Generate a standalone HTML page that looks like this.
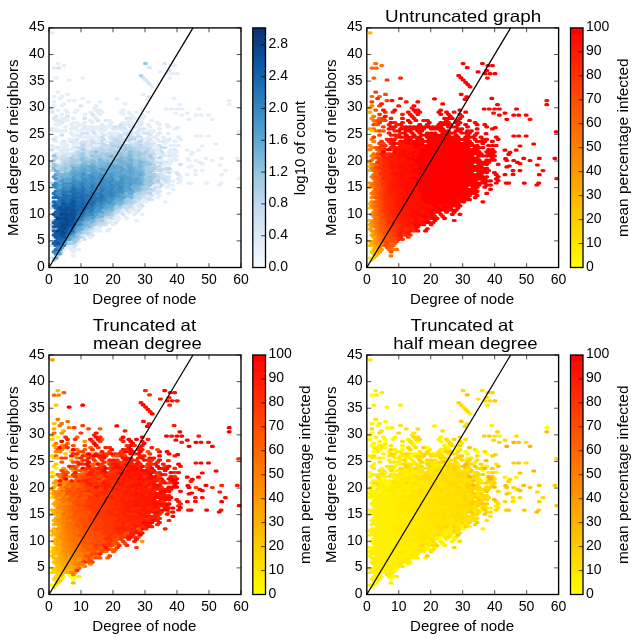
<!DOCTYPE html><html><head><meta charset="utf-8"><style>html,body{margin:0;padding:0;background:#fff;overflow:hidden} svg{display:block}</style></head><body><svg width="641" height="644" viewBox="0 0 641 644"><rect width="641" height="644" fill="#fff"/><filter id="bl" x="0" y="0" width="1" height="1"><feGaussianBlur stdDeviation="0.35"/></filter><g filter="url(#bl)"><style>text{font-family:"Liberation Sans",sans-serif;fill:#000} .tk text{font-size:14px} .lb{font-size:14px} .ti{font-size:16.5px}</style><clipPath id="clp0"><rect x="49" y="27.9" width="192" height="239.6"/></clipPath><g clip-path="url(#clp0)" stroke-width="3.24" stroke-linecap="round" fill="none"><path d="M51.3 258.0h1.8M51.3 128.9h1.8M51.3 112.2h1.8M51.3 108.0h1.8M53.2 118.4h1.8M55.1 153.8h1.8M55.1 120.5h1.8M55.1 116.4h1.8M57.0 147.6h1.8M59.0 158.0h1.8M59.0 120.5h1.8M60.9 151.8h1.8M60.9 122.6h1.8M62.8 158.0h1.8M62.8 153.8h1.8M62.8 149.7h1.8M62.8 141.4h1.8M66.6 149.7h1.8M66.6 116.4h1.8M70.5 153.8h1.8M72.4 147.6h1.8M74.3 141.4h1.8M76.2 139.3h1.8M78.1 241.3h1.8M80.0 135.1h1.8M80.0 105.9h1.8M81.9 141.4h1.8M81.9 133.0h1.8M83.9 239.3h1.8M83.9 126.8h1.8M83.9 118.4h1.8M85.8 145.5h1.8M85.8 141.4h1.8M89.6 149.7h1.8M91.5 235.1h1.8M91.5 230.9h1.8M91.5 139.3h1.8M91.5 130.9h1.8M91.5 114.3h1.8M93.4 141.4h1.8M97.3 120.5h1.8M99.2 226.8h1.8M99.2 139.3h1.8M101.1 128.9h1.8M103.0 147.6h1.8M103.0 135.1h1.8M103.0 126.8h1.8M104.9 220.5h1.8M104.9 120.5h1.8M106.8 222.6h1.8M106.8 147.6h1.8M108.8 137.2h1.8M108.8 133.0h1.8M110.7 135.1h1.8M112.6 141.4h1.8M112.6 137.2h1.8M112.6 128.9h1.8M114.5 222.6h1.8M114.5 214.3h1.8M116.4 137.2h1.8M118.3 126.8h1.8M120.2 212.2h1.8M120.2 128.9h1.8M122.2 143.4h1.8M122.2 135.1h1.8M122.2 126.8h1.8M124.1 141.4h1.8M124.1 128.9h1.8M126.0 135.1h1.8M126.0 118.4h1.8M127.9 212.2h1.8M127.9 124.7h1.8M129.8 130.9h1.8M129.8 126.8h1.8M129.8 118.4h1.8M133.7 126.8h1.8M135.6 141.4h1.8M135.6 133.0h1.8M137.5 205.9h1.8M137.5 201.8h1.8M137.5 135.1h1.8M137.5 130.9h1.8M139.4 203.8h1.8M139.4 128.9h1.8M139.4 124.7h1.8M141.3 143.4h1.8M141.3 139.3h1.8M143.2 145.5h1.8M143.2 128.9h1.8M145.1 197.6h1.8M147.1 145.5h1.8M149.0 197.6h1.8M149.0 151.8h1.8M149.0 135.1h1.8M150.9 199.7h1.8M150.9 149.7h1.8M150.9 145.5h1.8M152.8 155.9h1.8M152.8 143.4h1.8M154.7 191.3h1.8M154.7 178.8h1.8M154.7 158.0h1.8M154.7 149.7h1.8M156.6 193.4h1.8M158.6 191.3h1.8M158.6 149.7h1.8M158.6 133.0h1.8M160.5 172.6h1.8M160.5 155.9h1.8M162.4 174.7h1.8M162.4 170.5h1.8M162.4 162.2h1.8M162.4 153.8h1.8M166.2 183.0h1.8M166.2 178.8h1.8M166.2 170.5h1.8M166.2 162.2h1.8M168.1 180.9h1.8M168.1 176.8h1.8M168.1 155.9h1.8M168.1 139.3h1.8M173.9 149.7h1.8M175.8 172.6h1.8M177.7 178.8h1.8M177.7 174.7h1.8M57.7 68.1h1.8M148.6 67.7h1.8M163.8 63.5h1.8M168.2 70.6h1.8M144.7 80.0h1.8M147.0 82.3h1.8M149.2 84.5h1.8M148.2 96.8h1.8" stroke="#d6e6f4"/><path d="M51.3 245.5h1.8M51.3 241.3h1.8M51.3 203.8h1.8M51.3 162.2h1.8M51.3 149.7h1.8M60.9 251.8h1.8M60.9 135.1h1.8M64.7 155.9h1.8M66.6 153.8h1.8M70.5 241.3h1.8M70.5 141.4h1.8M72.4 247.6h1.8M74.3 245.5h1.8M80.0 143.4h1.8M83.9 147.6h1.8M83.9 143.4h1.8M85.8 133.0h1.8M89.6 233.0h1.8M91.5 147.6h1.8M91.5 143.4h1.8M93.4 228.8h1.8M93.4 149.7h1.8M93.4 133.0h1.8M95.3 143.4h1.8M101.1 137.2h1.8M104.9 224.7h1.8M106.8 218.4h1.8M114.5 126.8h1.8M118.3 139.3h1.8M118.3 135.1h1.8M122.2 214.3h1.8M124.1 133.0h1.8M126.0 210.1h1.8M126.0 205.9h1.8M126.0 139.3h1.8M127.9 208.0h1.8M127.9 137.2h1.8M129.8 143.4h1.8M131.7 208.0h1.8M131.7 137.2h1.8M135.6 199.7h1.8M135.6 137.2h1.8M137.5 210.1h1.8M139.4 137.2h1.8M141.3 205.9h1.8M143.2 195.5h1.8M143.2 133.0h1.8M145.1 143.4h1.8M147.1 141.4h1.8M147.1 133.0h1.8M149.0 147.6h1.8M149.0 143.4h1.8M149.0 139.3h1.8M150.9 195.5h1.8M150.9 191.3h1.8M152.8 172.6h1.8M152.8 151.8h1.8M154.7 170.5h1.8M154.7 153.8h1.8M156.6 168.4h1.8M158.6 178.8h1.8M158.6 174.7h1.8M160.5 176.8h1.8M160.5 164.3h1.8M162.4 178.8h1.8M162.4 141.4h1.8M164.3 176.8h1.8M164.3 147.6h1.8M179.6 164.3h1.8M142.4 77.8h1.8" stroke="#cee0f2"/><path d="M51.3 228.8h1.8M60.9 164.3h1.8M66.6 158.0h1.8M76.2 147.6h1.8M80.0 235.1h1.8M80.0 147.6h1.8M81.9 237.2h1.8M83.9 151.8h1.8M87.7 151.8h1.8M89.6 228.8h1.8M97.3 224.7h1.8M97.3 149.7h1.8M99.2 143.4h1.8M103.0 222.6h1.8M103.0 155.9h1.8M103.0 143.4h1.8M104.9 149.7h1.8M104.9 145.5h1.8M114.5 147.6h1.8M116.4 212.2h1.8M118.3 210.1h1.8M118.3 143.4h1.8M120.2 141.4h1.8M127.9 133.0h1.8M135.6 149.7h1.8M137.5 143.4h1.8M139.4 149.7h1.8M141.3 151.8h1.8M145.1 155.9h1.8M145.1 147.6h1.8M147.1 158.0h1.8M147.1 153.8h1.8M150.9 153.8h1.8M152.8 189.3h1.8M152.8 180.9h1.8M152.8 160.1h1.8M154.7 183.0h1.8M154.7 166.3h1.8M158.6 166.3h1.8M168.1 172.6h1.8" stroke="#c6dbef"/><path d="M51.3 224.7h1.8M66.6 241.3h1.8M68.5 164.3h1.8M72.4 155.9h1.8M76.2 151.8h1.8M78.1 153.8h1.8M83.9 155.9h1.8M89.6 153.8h1.8M91.5 226.8h1.8M91.5 151.8h1.8M95.3 222.6h1.8M116.4 145.5h1.8M120.2 208.0h1.8M120.2 149.7h1.8M122.2 147.6h1.8M131.7 203.8h1.8M131.7 149.7h1.8M133.7 197.6h1.8M133.7 147.6h1.8M135.6 153.8h1.8M139.4 145.5h1.8M145.1 172.6h1.8M145.1 168.4h1.8M145.1 160.1h1.8M147.1 187.2h1.8M149.0 189.3h1.8M150.9 162.2h1.8M152.8 164.3h1.8M154.7 174.7h1.8M158.6 158.0h1.8M140.1 75.6h1.8" stroke="#b2d2e8"/><path d="M51.3 220.5h1.8M51.3 187.2h1.8M51.3 170.5h1.8M51.3 166.3h1.8M53.2 139.3h1.8M57.0 255.9h1.8M57.0 164.3h1.8M60.9 155.9h1.8M74.3 158.0h1.8M74.3 153.8h1.8M78.1 158.0h1.8M78.1 149.7h1.8M80.0 151.8h1.8M85.8 153.8h1.8M85.8 149.7h1.8M87.7 235.1h1.8M87.7 230.9h1.8M87.7 155.9h1.8M89.6 158.0h1.8M89.6 145.5h1.8M89.6 141.4h1.8M95.3 147.6h1.8M97.3 153.8h1.8M101.1 224.7h1.8M101.1 145.5h1.8M101.1 141.4h1.8M103.0 218.4h1.8M103.0 139.3h1.8M106.8 151.8h1.8M108.8 145.5h1.8M110.7 139.3h1.8M112.6 216.3h1.8M114.5 143.4h1.8M116.4 149.7h1.8M120.2 137.2h1.8M120.2 124.7h1.8M122.2 205.9h1.8M122.2 139.3h1.8M127.9 141.4h1.8M129.8 135.1h1.8M131.7 145.5h1.8M133.7 143.4h1.8M135.6 145.5h1.8M139.4 199.7h1.8M139.4 195.5h1.8M141.3 197.6h1.8M143.2 149.7h1.8M147.1 199.7h1.8M147.1 191.3h1.8M149.0 160.1h1.8M150.9 166.3h1.8M154.7 162.2h1.8M158.6 187.2h1.8M158.6 145.5h1.8M160.5 168.4h1.8M160.5 151.8h1.8M160.5 147.6h1.8M164.3 180.9h1.8M164.3 168.4h1.8" stroke="#cadef0"/><path d="M51.3 208.0h1.8M51.3 183.0h1.8M60.9 160.1h1.8M64.7 160.1h1.8M66.6 162.2h1.8M81.9 145.5h1.8M93.4 153.8h1.8M99.2 222.6h1.8M99.2 147.6h1.8M104.9 216.3h1.8M108.8 216.3h1.8M110.7 218.4h1.8M110.7 147.6h1.8M112.6 212.2h1.8M112.6 149.7h1.8M114.5 210.1h1.8M114.5 139.3h1.8M116.4 141.4h1.8M124.1 208.0h1.8M126.0 151.8h1.8M127.9 203.8h1.8M129.8 205.9h1.8M133.7 139.3h1.8M135.6 158.0h1.8M137.5 147.6h1.8M141.3 155.9h1.8M141.3 147.6h1.8M143.2 191.3h1.8M145.1 193.4h1.8M154.7 187.2h1.8M156.6 176.8h1.8M158.6 183.0h1.8M158.6 170.5h1.8M158.6 162.2h1.8M160.5 185.1h1.8" stroke="#bfd8ed"/><path d="M51.3 145.5h1.8M53.2 147.6h1.8M53.2 130.9h1.8M53.2 105.9h1.8M53.2 101.8h1.8M55.1 141.4h1.8M55.1 137.2h1.8M55.1 128.9h1.8M55.1 124.7h1.8M57.0 155.9h1.8M57.0 130.9h1.8M57.0 122.6h1.8M57.0 110.1h1.8M59.0 162.2h1.8M59.0 153.8h1.8M59.0 149.7h1.8M59.0 124.7h1.8M60.9 147.6h1.8M60.9 143.4h1.8M60.9 130.9h1.8M60.9 118.4h1.8M60.9 114.3h1.8M60.9 105.9h1.8M62.8 249.7h1.8M62.8 145.5h1.8M62.8 120.5h1.8M62.8 103.9h1.8M64.7 151.8h1.8M64.7 147.6h1.8M64.7 143.4h1.8M64.7 130.9h1.8M64.7 126.8h1.8M64.7 118.4h1.8M64.7 110.1h1.8M66.6 245.5h1.8M66.6 145.5h1.8M66.6 120.5h1.8M66.6 112.2h1.8M68.5 247.6h1.8M68.5 155.9h1.8M68.5 139.3h1.8M70.5 249.7h1.8M70.5 245.5h1.8M70.5 149.7h1.8M70.5 133.0h1.8M70.5 128.9h1.8M70.5 124.7h1.8M72.4 255.9h1.8M72.4 251.8h1.8M72.4 143.4h1.8M72.4 139.3h1.8M72.4 135.1h1.8M72.4 126.8h1.8M72.4 122.6h1.8M72.4 118.4h1.8M74.3 249.7h1.8M74.3 149.7h1.8M74.3 145.5h1.8M74.3 128.9h1.8M74.3 112.2h1.8M76.2 243.4h1.8M76.2 143.4h1.8M76.2 135.1h1.8M76.2 130.9h1.8M76.2 126.8h1.8M76.2 122.6h1.8M76.2 110.1h1.8M78.1 249.7h1.8M78.1 137.2h1.8M78.1 124.7h1.8M80.0 239.3h1.8M80.0 130.9h1.8M81.9 137.2h1.8M81.9 128.9h1.8M81.9 124.7h1.8M83.9 235.1h1.8M83.9 122.6h1.8M83.9 114.3h1.8M85.8 137.2h1.8M85.8 128.9h1.8M87.7 147.6h1.8M87.7 143.4h1.8M87.7 139.3h1.8M87.7 135.1h1.8M87.7 130.9h1.8M87.7 126.8h1.8M87.7 101.8h1.8M89.6 237.2h1.8M89.6 137.2h1.8M89.6 128.9h1.8M89.6 120.5h1.8M89.6 112.2h1.8M91.5 126.8h1.8M91.5 122.6h1.8M93.4 145.5h1.8M93.4 137.2h1.8M93.4 128.9h1.8M93.4 116.4h1.8M93.4 108.0h1.8M95.3 230.9h1.8M95.3 226.8h1.8M95.3 135.1h1.8M95.3 126.8h1.8M95.3 118.4h1.8M95.3 110.1h1.8M95.3 105.9h1.8M97.3 228.8h1.8M97.3 145.5h1.8M97.3 141.4h1.8M97.3 137.2h1.8M97.3 128.9h1.8M97.3 112.2h1.8M99.2 230.9h1.8M99.2 130.9h1.8M99.2 126.8h1.8M99.2 114.3h1.8M99.2 110.1h1.8M99.2 101.8h1.8M101.1 133.0h1.8M101.1 124.7h1.8M101.1 112.2h1.8M103.0 130.9h1.8M104.9 141.4h1.8M104.9 128.9h1.8M106.8 230.9h1.8M106.8 135.1h1.8M106.8 126.8h1.8M108.8 228.8h1.8M108.8 220.5h1.8M108.8 141.4h1.8M108.8 124.7h1.8M108.8 120.5h1.8M110.7 222.6h1.8M110.7 126.8h1.8M110.7 122.6h1.8M112.6 224.7h1.8M112.6 133.0h1.8M114.5 218.4h1.8M114.5 135.1h1.8M116.4 220.5h1.8M116.4 216.3h1.8M116.4 133.0h1.8M116.4 128.9h1.8M118.3 218.4h1.8M120.2 112.2h1.8M122.2 210.1h1.8M122.2 130.9h1.8M122.2 122.6h1.8M122.2 114.3h1.8M122.2 110.1h1.8M124.1 216.3h1.8M124.1 137.2h1.8M124.1 124.7h1.8M124.1 103.9h1.8M126.0 218.4h1.8M126.0 143.4h1.8M126.0 130.9h1.8M126.0 122.6h1.8M127.9 120.5h1.8M127.9 112.2h1.8M129.8 210.1h1.8M129.8 122.6h1.8M129.8 114.3h1.8M131.7 141.4h1.8M131.7 133.0h1.8M131.7 124.7h1.8M131.7 116.4h1.8M133.7 214.3h1.8M133.7 210.1h1.8M133.7 205.9h1.8M133.7 118.4h1.8M135.6 220.5h1.8M135.6 212.2h1.8M135.6 203.8h1.8M135.6 112.2h1.8M137.5 139.3h1.8M137.5 126.8h1.8M137.5 122.6h1.8M139.4 208.0h1.8M139.4 120.5h1.8M141.3 214.3h1.8M141.3 201.8h1.8M141.3 130.9h1.8M141.3 122.6h1.8M141.3 118.4h1.8M141.3 114.3h1.8M141.3 110.1h1.8M143.2 199.7h1.8M143.2 116.4h1.8M145.1 201.8h1.8M145.1 139.3h1.8M147.1 195.5h1.8M147.1 137.2h1.8M147.1 124.7h1.8M147.1 112.2h1.8M149.0 130.9h1.8M149.0 126.8h1.8M150.9 141.4h1.8M150.9 137.2h1.8M150.9 133.0h1.8M150.9 120.5h1.8M152.8 193.4h1.8M152.8 185.1h1.8M152.8 130.9h1.8M154.7 145.5h1.8M154.7 137.2h1.8M156.6 197.6h1.8M156.6 189.3h1.8M156.6 185.1h1.8M156.6 160.1h1.8M156.6 151.8h1.8M156.6 147.6h1.8M156.6 139.3h1.8M156.6 135.1h1.8M156.6 122.6h1.8M158.6 195.5h1.8M158.6 153.8h1.8M158.6 141.4h1.8M158.6 128.9h1.8M158.6 124.7h1.8M160.5 160.1h1.8M162.4 183.0h1.8M162.4 166.3h1.8M162.4 137.2h1.8M164.3 201.8h1.8M164.3 172.6h1.8M164.3 164.3h1.8M164.3 155.9h1.8M164.3 143.4h1.8M164.3 139.3h1.8M166.2 187.2h1.8M166.2 141.4h1.8M166.2 124.7h1.8M168.1 193.4h1.8M168.1 185.1h1.8M168.1 164.3h1.8M168.1 160.1h1.8M168.1 151.8h1.8M168.1 126.8h1.8M170.0 170.5h1.8M170.0 162.2h1.8M170.0 153.8h1.8M170.0 149.7h1.8M170.0 145.5h1.8M172.0 189.3h1.8M172.0 185.1h1.8M172.0 180.9h1.8M172.0 160.1h1.8M172.0 155.9h1.8M172.0 151.8h1.8M173.9 158.0h1.8M173.9 153.8h1.8M173.9 145.5h1.8M173.9 141.4h1.8M173.9 128.9h1.8M175.8 160.1h1.8M175.8 155.9h1.8M175.8 151.8h1.8M177.7 183.0h1.8M177.7 145.5h1.8M177.7 137.2h1.8M179.6 176.8h1.8M179.6 139.3h1.8M51.5 32.8h1.8M57.0 63.5h1.8M53.3 68.1h1.8M63.0 65.6h1.8M55.2 78.1h1.8M68.3 80.0h1.8M81.8 78.1h1.8M57.0 92.2h1.8M53.3 96.5h1.8M60.8 96.5h1.8M66.8 94.4h1.8M58.9 98.5h1.8M68.3 100.6h1.8M73.3 100.6h1.8M81.8 98.5h1.8M169.4 65.6h1.8M173.8 65.6h1.8M159.5 71.9h1.8M166.4 73.7h1.8M171.4 73.7h1.8M176.4 73.7h1.8M168.8 78.1h1.8M151.4 86.8h1.8M142.6 94.3h1.8M146.4 99.3h1.8M173.2 98.4h1.8M115.9 98.8h1.8M228.3 100.6h1.8M228.3 104.7h1.8M178.9 104.7h1.8M180.8 109.0h1.8M176.0 109.0h1.8M180.8 115.2h1.8M186.4 113.1h1.8M197.9 109.0h1.8M195.1 115.2h1.8M200.1 115.2h1.8M207.6 115.2h1.8M211.5 119.3h1.8M188.2 119.3h1.8M195.1 136.0h1.8M200.1 136.0h1.8M207.6 136.0h1.8M237.7 131.8h1.8M215.2 144.0h1.8M201.4 146.0h1.8M197.6 150.2h1.8M186.4 150.2h1.8M191.4 152.4h1.8M190.1 154.3h1.8M205.1 158.4h1.8M211.5 160.5h1.8M220.8 158.4h1.8M236.4 158.4h1.8M218.9 165.0h1.8M187.0 158.7h1.8M188.2 160.5h1.8M195.1 160.5h1.8M198.9 162.4h1.8M201.4 163.7h1.8M224.5 170.6h1.8M220.8 174.7h1.8M205.7 183.1h1.8M220.2 183.1h1.8M218.3 185.0h1.8M238.3 178.7h1.8M201.4 170.6h1.8M194.5 170.6h1.8M194.5 174.4h1.8M186.4 174.7h1.8M187.6 183.1h1.8M190.1 183.1h1.8M188.2 166.9h1.8M190.7 166.0h1.8M179.5 180.6h1.8M165.6 109.0h1.8M170.7 109.0h1.8M175.0 113.1h1.8M167.5 133.7h1.8M176.8 127.6h1.8" stroke="#e3eef8"/><path d="M53.2 260.1h1.8M53.2 160.1h1.8M62.8 166.3h1.8M72.4 243.4h1.8M78.1 237.2h1.8M81.9 233.0h1.8M81.9 149.7h1.8M85.8 158.0h1.8M87.7 164.3h1.8M87.7 160.1h1.8M95.3 160.1h1.8M110.7 214.3h1.8M112.6 145.5h1.8M122.2 151.8h1.8M124.1 203.8h1.8M124.1 145.5h1.8M126.0 147.6h1.8M127.9 149.7h1.8M129.8 201.8h1.8M133.7 193.4h1.8M139.4 158.0h1.8M143.2 158.0h1.8M145.1 189.3h1.8M145.1 185.1h1.8M145.1 151.8h1.8M147.1 166.3h1.8M149.0 168.4h1.8M150.9 158.0h1.8M152.8 168.4h1.8M156.6 180.9h1.8" stroke="#abd0e6"/><path d="M53.2 251.8h1.8M59.0 245.5h1.8M59.0 199.7h1.8M60.9 193.4h1.8M62.8 245.5h1.8M70.5 187.2h1.8M72.4 185.1h1.8M74.3 187.2h1.8M76.2 189.3h1.8M78.1 220.5h1.8M78.1 195.5h1.8M80.0 218.4h1.8M80.0 185.1h1.8M81.9 183.0h1.8M83.9 214.3h1.8M83.9 189.3h1.8M87.7 197.6h1.8M89.6 212.2h1.8M89.6 191.3h1.8M89.6 187.2h1.8M95.3 201.8h1.8M95.3 193.4h1.8M97.3 199.7h1.8M99.2 201.8h1.8M99.2 189.3h1.8M101.1 203.8h1.8M101.1 191.3h1.8M101.1 187.2h1.8M103.0 197.6h1.8M110.7 189.3h1.8M110.7 185.1h1.8" stroke="#2c7cba"/><path d="M53.2 243.4h1.8M53.2 235.1h1.8M53.2 230.9h1.8M53.2 205.9h1.8M55.1 241.3h1.8M55.1 224.7h1.8M55.1 220.5h1.8M55.1 212.2h1.8M55.1 208.0h1.8M57.0 239.3h1.8M59.0 237.2h1.8M59.0 216.3h1.8M59.0 212.2h1.8M60.9 239.3h1.8M62.8 199.7h1.8M64.7 205.9h1.8M66.6 233.0h1.8M66.6 228.8h1.8M68.5 226.8h1.8M68.5 210.1h1.8M70.5 228.8h1.8M70.5 199.7h1.8M72.4 197.6h1.8M74.3 208.0h1.8M74.3 203.8h1.8M76.2 214.3h1.8M76.2 210.1h1.8M80.0 205.9h1.8M81.9 199.7h1.8" stroke="#1460a8"/><path d="M53.2 226.8h1.8M53.2 222.6h1.8M53.2 214.3h1.8M55.1 237.2h1.8M55.1 233.0h1.8M55.1 216.3h1.8M57.0 235.1h1.8M57.0 226.8h1.8M57.0 222.6h1.8M59.0 233.0h1.8M59.0 228.8h1.8M59.0 220.5h1.8M60.9 205.9h1.8M62.8 208.0h1.8M66.6 212.2h1.8M66.6 203.8h1.8M72.4 226.8h1.8M74.3 216.3h1.8M74.3 212.2h1.8M81.9 208.0h1.8M81.9 203.8h1.8" stroke="#105ba4"/><path d="M53.2 201.8h1.8M55.1 203.8h1.8M57.0 214.3h1.8M57.0 210.1h1.8M60.9 201.8h1.8M62.8 241.3h1.8M62.8 195.5h1.8M64.7 235.1h1.8M64.7 201.8h1.8M68.5 205.9h1.8M72.4 193.4h1.8M74.3 220.5h1.8M74.3 199.7h1.8M76.2 205.9h1.8M76.2 201.8h1.8M76.2 197.6h1.8M78.1 208.0h1.8M80.0 210.1h1.8M80.0 201.8h1.8M80.0 197.6h1.8M81.9 195.5h1.8M89.6 203.8h1.8M91.5 197.6h1.8" stroke="#1966ad"/><path d="M53.2 197.6h1.8M55.1 245.5h1.8M57.0 205.9h1.8M57.0 197.6h1.8M59.0 241.3h1.8M60.9 243.4h1.8M66.6 195.5h1.8M68.5 230.9h1.8M68.5 201.8h1.8M70.5 195.5h1.8M74.3 195.5h1.8M78.1 212.2h1.8M78.1 203.8h1.8M80.0 214.3h1.8M81.9 212.2h1.8M81.9 191.3h1.8M83.9 210.1h1.8M83.9 205.9h1.8M83.9 201.8h1.8M85.8 203.8h1.8M91.5 205.9h1.8M91.5 201.8h1.8M91.5 193.4h1.8M101.1 195.5h1.8" stroke="#1c6bb0"/><path d="M53.2 193.4h1.8M55.1 191.3h1.8M57.0 201.8h1.8M59.0 203.8h1.8M64.7 239.3h1.8M64.7 193.4h1.8M66.6 191.3h1.8M68.5 235.1h1.8M68.5 197.6h1.8M74.3 191.3h1.8M78.1 216.3h1.8M80.0 189.3h1.8M81.9 216.3h1.8M83.9 193.4h1.8M85.8 199.7h1.8M87.7 205.9h1.8M89.6 208.0h1.8M89.6 195.5h1.8M91.5 210.1h1.8M91.5 189.3h1.8M91.5 185.1h1.8M93.4 199.7h1.8M93.4 195.5h1.8M95.3 197.6h1.8M99.2 197.6h1.8M99.2 193.4h1.8M101.1 199.7h1.8" stroke="#2676b8"/><path d="M53.2 185.1h1.8M55.1 187.2h1.8M60.9 189.3h1.8M62.8 187.2h1.8M68.5 193.4h1.8M70.5 233.0h1.8M78.1 191.3h1.8M85.8 212.2h1.8M85.8 191.3h1.8M87.7 210.1h1.8M87.7 193.4h1.8M93.4 208.0h1.8M93.4 191.3h1.8M93.4 187.2h1.8M97.3 195.5h1.8M103.0 189.3h1.8M108.8 195.5h1.8M108.8 191.3h1.8M110.7 193.4h1.8" stroke="#3181bd"/><path d="M53.2 176.8h1.8M57.0 251.8h1.8M62.8 178.8h1.8M64.7 185.1h1.8M68.5 185.1h1.8M74.3 233.0h1.8M74.3 178.8h1.8M81.9 224.7h1.8M83.9 172.6h1.8M87.7 176.8h1.8M91.5 172.6h1.8M95.3 172.6h1.8M97.3 212.2h1.8M97.3 183.0h1.8M99.2 168.4h1.8M101.1 170.5h1.8M104.9 170.5h1.8M108.8 203.8h1.8M108.8 174.7h1.8M110.7 172.6h1.8M112.6 174.7h1.8M116.4 187.2h1.8M118.3 197.6h1.8M118.3 193.4h1.8M118.3 180.9h1.8M118.3 176.8h1.8M120.2 170.5h1.8M122.2 189.3h1.8M122.2 180.9h1.8M122.2 176.8h1.8M124.1 183.0h1.8M127.9 187.2h1.8M127.9 183.0h1.8M127.9 178.8h1.8M129.8 180.9h1.8M129.8 172.6h1.8" stroke="#4f9bcb"/><path d="M53.2 168.4h1.8M59.0 178.8h1.8M64.7 172.6h1.8M70.5 166.3h1.8M78.1 166.3h1.8M80.0 164.3h1.8M81.9 158.0h1.8M87.7 226.8h1.8M91.5 160.1h1.8M93.4 220.5h1.8M93.4 162.2h1.8M97.3 166.3h1.8M106.8 160.1h1.8M108.8 162.2h1.8M112.6 208.0h1.8M112.6 162.2h1.8M116.4 203.8h1.8M122.2 201.8h1.8M122.2 160.1h1.8M129.8 151.8h1.8M131.7 166.3h1.8M131.7 162.2h1.8M133.7 189.3h1.8M137.5 164.3h1.8M143.2 174.7h1.8M149.0 176.8h1.8" stroke="#84bcdb"/><path d="M53.2 164.3h1.8M59.0 170.5h1.8M72.4 160.1h1.8M81.9 153.8h1.8M83.9 160.1h1.8M87.7 222.6h1.8M95.3 155.9h1.8M97.3 158.0h1.8M99.2 218.4h1.8M99.2 155.9h1.8M101.1 220.5h1.8M101.1 158.0h1.8M103.0 160.1h1.8M104.9 153.8h1.8M108.8 212.2h1.8M108.8 158.0h1.8M110.7 160.1h1.8M112.6 158.0h1.8M114.5 205.9h1.8M116.4 158.0h1.8M124.1 199.7h1.8M124.1 149.7h1.8M126.0 201.8h1.8M126.0 155.9h1.8M131.7 158.0h1.8M131.7 153.8h1.8M135.6 162.2h1.8M137.5 155.9h1.8M139.4 191.3h1.8M141.3 189.3h1.8M141.3 160.1h1.8M143.2 183.0h1.8M143.2 170.5h1.8M143.2 166.3h1.8M145.1 180.9h1.8M145.1 164.3h1.8M147.1 183.0h1.8M147.1 178.8h1.8M147.1 162.2h1.8M149.0 185.1h1.8M150.9 183.0h1.8M150.9 178.8h1.8" stroke="#9dcae1"/><path d="M53.2 155.9h1.8M57.0 176.8h1.8M64.7 168.4h1.8M72.4 239.3h1.8M72.4 164.3h1.8M74.3 166.3h1.8M78.1 233.0h1.8M80.0 230.9h1.8M80.0 160.1h1.8M81.9 162.2h1.8M85.8 162.2h1.8M89.6 224.7h1.8M89.6 162.2h1.8M95.3 218.4h1.8M95.3 164.3h1.8M95.3 151.8h1.8M103.0 214.3h1.8M104.9 162.2h1.8M116.4 162.2h1.8M116.4 153.8h1.8M118.3 155.9h1.8M120.2 153.8h1.8M124.1 158.0h1.8M126.0 197.6h1.8M126.0 160.1h1.8M127.9 153.8h1.8M131.7 195.5h1.8M133.7 164.3h1.8M133.7 160.1h1.8M135.6 191.3h1.8M135.6 166.3h1.8M137.5 160.1h1.8M139.4 187.2h1.8M141.3 168.4h1.8M141.3 164.3h1.8M143.2 178.8h1.8M143.2 162.2h1.8" stroke="#8dc1dd"/><path d="M55.1 258.0h1.8M55.1 174.7h1.8M60.9 247.6h1.8M64.7 243.4h1.8M70.5 178.8h1.8M74.3 174.7h1.8M80.0 172.6h1.8M83.9 176.8h1.8M83.9 168.4h1.8M85.8 174.7h1.8M89.6 216.3h1.8M89.6 170.5h1.8M91.5 218.4h1.8M93.4 216.3h1.8M93.4 174.7h1.8M95.3 176.8h1.8M97.3 174.7h1.8M99.2 172.6h1.8M103.0 176.8h1.8M103.0 168.4h1.8M104.9 174.7h1.8M106.8 176.8h1.8M106.8 172.6h1.8M110.7 168.4h1.8M114.5 197.6h1.8M120.2 195.5h1.8M120.2 174.7h1.8M120.2 166.3h1.8M122.2 193.4h1.8M122.2 168.4h1.8M124.1 191.3h1.8M124.1 187.2h1.8M124.1 178.8h1.8M124.1 174.7h1.8M126.0 176.8h1.8M127.9 170.5h1.8M129.8 176.8h1.8M131.7 183.0h1.8" stroke="#56a0ce"/><path d="M55.1 253.8h1.8M57.0 185.1h1.8M60.9 185.1h1.8M66.6 183.0h1.8M68.5 189.3h1.8M81.9 174.7h1.8M83.9 218.4h1.8M85.8 216.3h1.8M85.8 183.0h1.8M87.7 185.1h1.8M89.6 178.8h1.8M93.4 212.2h1.8M93.4 178.8h1.8M97.3 187.2h1.8M99.2 180.9h1.8M99.2 176.8h1.8M101.1 174.7h1.8M104.9 183.0h1.8M106.8 201.8h1.8M106.8 197.6h1.8M106.8 180.9h1.8M110.7 201.8h1.8M110.7 176.8h1.8M112.6 178.8h1.8M114.5 193.4h1.8M114.5 185.1h1.8M116.4 191.3h1.8M116.4 183.0h1.8M118.3 185.1h1.8M120.2 191.3h1.8M120.2 183.0h1.8M120.2 178.8h1.8" stroke="#4191c6"/><path d="M55.1 249.7h1.8M55.1 195.5h1.8M60.9 197.6h1.8M62.8 191.3h1.8M64.7 197.6h1.8M66.6 237.2h1.8M66.6 199.7h1.8M70.5 191.3h1.8M72.4 230.9h1.8M72.4 189.3h1.8M74.3 224.7h1.8M76.2 218.4h1.8M76.2 193.4h1.8M78.1 199.7h1.8M80.0 193.4h1.8M81.9 187.2h1.8M83.9 197.6h1.8M85.8 208.0h1.8M85.8 195.5h1.8M87.7 201.8h1.8M89.6 199.7h1.8M93.4 203.8h1.8" stroke="#2070b4"/><path d="M55.1 183.0h1.8M57.0 247.6h1.8M59.0 195.5h1.8M64.7 189.3h1.8M70.5 183.0h1.8M74.3 228.8h1.8M76.2 222.6h1.8M78.1 187.2h1.8M81.9 220.5h1.8M83.9 185.1h1.8M85.8 187.2h1.8M87.7 189.3h1.8M93.4 183.0h1.8M95.3 205.9h1.8M95.3 189.3h1.8M99.2 205.9h1.8M99.2 185.1h1.8M101.1 183.0h1.8M103.0 201.8h1.8M103.0 193.4h1.8M104.9 199.7h1.8M104.9 195.5h1.8M104.9 191.3h1.8M106.8 193.4h1.8M108.8 183.0h1.8M110.7 197.6h1.8M110.7 180.9h1.8M112.6 195.5h1.8M120.2 187.2h1.8" stroke="#3787c0"/><path d="M55.1 178.8h1.8M57.0 189.3h1.8M60.9 180.9h1.8M72.4 235.1h1.8M72.4 176.8h1.8M76.2 226.8h1.8M76.2 180.9h1.8M80.0 222.6h1.8M80.0 176.8h1.8M85.8 178.8h1.8M87.7 180.9h1.8M89.6 174.7h1.8M95.3 210.1h1.8M95.3 180.9h1.8M97.3 208.0h1.8M97.3 178.8h1.8M99.2 210.1h1.8M101.1 212.2h1.8M103.0 205.9h1.8M104.9 203.8h1.8M104.9 178.8h1.8M106.8 185.1h1.8M108.8 199.7h1.8M108.8 178.8h1.8M112.6 199.7h1.8M112.6 183.0h1.8M114.5 189.3h1.8M114.5 180.9h1.8M116.4 195.5h1.8M122.2 185.1h1.8M129.8 189.3h1.8M129.8 185.1h1.8" stroke="#4997c9"/><path d="M55.1 170.5h1.8M60.9 176.8h1.8M70.5 237.2h1.8M72.4 168.4h1.8M74.3 170.5h1.8M78.1 170.5h1.8M80.0 226.8h1.8M80.0 168.4h1.8M81.9 166.3h1.8M83.9 222.6h1.8M85.8 166.3h1.8M93.4 166.3h1.8M95.3 168.4h1.8M97.3 170.5h1.8M101.1 166.3h1.8M104.9 166.3h1.8M106.8 168.4h1.8M106.8 164.3h1.8M108.8 208.0h1.8M108.8 166.3h1.8M110.7 164.3h1.8M114.5 201.8h1.8M116.4 178.8h1.8M116.4 170.5h1.8M120.2 162.2h1.8M122.2 172.6h1.8M122.2 164.3h1.8M124.1 195.5h1.8M126.0 164.3h1.8M129.8 164.3h1.8M129.8 160.1h1.8M133.7 185.1h1.8M133.7 172.6h1.8M137.5 176.8h1.8M137.5 172.6h1.8M139.4 178.8h1.8" stroke="#6aaed6"/><path d="M55.1 166.3h1.8M62.8 170.5h1.8M74.3 241.3h1.8M76.2 235.1h1.8M76.2 164.3h1.8M91.5 155.9h1.8M97.3 162.2h1.8M106.8 214.3h1.8M106.8 155.9h1.8M118.3 205.9h1.8M122.2 155.9h1.8M139.4 153.8h1.8M149.0 180.9h1.8M149.0 172.6h1.8M149.0 164.3h1.8M144.5 63.5h1.8" stroke="#95c5df"/><path d="M55.1 158.0h1.8M57.0 168.4h1.8M59.0 166.3h1.8M60.9 172.6h1.8M62.8 162.2h1.8M68.5 160.1h1.8M76.2 155.9h1.8M78.1 162.2h1.8M83.9 230.9h1.8M85.8 233.0h1.8M99.2 151.8h1.8M101.1 149.7h1.8M103.0 151.8h1.8M108.8 149.7h1.8M110.7 151.8h1.8M110.7 143.4h1.8M112.6 153.8h1.8M120.2 145.5h1.8M127.9 145.5h1.8M129.8 139.3h1.8M131.7 199.7h1.8M133.7 201.8h1.8M135.6 195.5h1.8M137.5 197.6h1.8M139.4 141.4h1.8M141.3 193.4h1.8M147.1 149.7h1.8M149.0 193.4h1.8M168.1 168.4h1.8" stroke="#b9d6ea"/><path d="M57.0 243.4h1.8M59.0 224.7h1.8M60.9 210.1h1.8M62.8 237.2h1.8M62.8 212.2h1.8M62.8 203.8h1.8M64.7 230.9h1.8M66.6 216.3h1.8M68.5 222.6h1.8M68.5 218.4h1.8M70.5 224.7h1.8M70.5 208.0h1.8M70.5 203.8h1.8M72.4 222.6h1.8M72.4 205.9h1.8M72.4 201.8h1.8" stroke="#0c56a0"/><path d="M57.0 230.9h1.8M57.0 218.4h1.8M60.9 214.3h1.8M62.8 224.7h1.8" stroke="#084082"/><path d="M57.0 193.4h1.8M59.0 249.7h1.8M59.0 191.3h1.8M62.8 183.0h1.8M66.6 187.2h1.8M72.4 180.9h1.8M74.3 183.0h1.8M76.2 185.1h1.8M78.1 224.7h1.8M78.1 183.0h1.8M80.0 180.9h1.8M81.9 178.8h1.8M83.9 180.9h1.8M87.7 214.3h1.8M89.6 183.0h1.8M91.5 214.3h1.8M91.5 180.9h1.8M91.5 176.8h1.8M95.3 185.1h1.8M97.3 203.8h1.8M97.3 191.3h1.8M101.1 208.0h1.8M101.1 178.8h1.8M103.0 185.1h1.8M103.0 180.9h1.8M104.9 187.2h1.8M106.8 189.3h1.8M108.8 187.2h1.8M112.6 191.3h1.8M112.6 187.2h1.8M118.3 189.3h1.8" stroke="#3c8cc3"/><path d="M57.0 180.9h1.8M62.8 174.7h1.8M68.5 176.8h1.8M70.5 170.5h1.8M74.3 237.2h1.8M81.9 228.8h1.8M87.7 172.6h1.8M87.7 168.4h1.8M89.6 220.5h1.8M91.5 222.6h1.8M91.5 164.3h1.8M101.1 216.3h1.8M103.0 210.1h1.8M110.7 210.1h1.8M110.7 155.9h1.8M114.5 160.1h1.8M118.3 201.8h1.8M118.3 160.1h1.8M124.1 162.2h1.8M126.0 168.4h1.8M127.9 195.5h1.8M129.8 197.6h1.8M131.7 187.2h1.8M133.7 176.8h1.8M133.7 168.4h1.8M135.6 187.2h1.8M135.6 174.7h1.8M135.6 170.5h1.8M137.5 185.1h1.8M139.4 170.5h1.8M141.3 172.6h1.8" stroke="#74b3d8"/><path d="M57.0 172.6h1.8M59.0 174.7h1.8M64.7 176.8h1.8M66.6 174.7h1.8M68.5 172.6h1.8M76.2 168.4h1.8M83.9 226.8h1.8M83.9 164.3h1.8M85.8 224.7h1.8M97.3 216.3h1.8M99.2 214.3h1.8M99.2 164.3h1.8M99.2 160.1h1.8M101.1 162.2h1.8M103.0 164.3h1.8M104.9 212.2h1.8M106.8 210.1h1.8M114.5 164.3h1.8M118.3 164.3h1.8M120.2 203.8h1.8M120.2 158.0h1.8M124.1 166.3h1.8M126.0 193.4h1.8M127.9 162.2h1.8M127.9 158.0h1.8M129.8 155.9h1.8M137.5 189.3h1.8M137.5 168.4h1.8M139.4 166.3h1.8M139.4 162.2h1.8M141.3 185.1h1.8M141.3 180.9h1.8M141.3 176.8h1.8" stroke="#7cb7da"/><path d="M59.0 253.8h1.8M59.0 183.0h1.8M64.7 180.9h1.8M70.5 174.7h1.8M76.2 230.9h1.8M76.2 172.6h1.8M78.1 228.8h1.8M85.8 220.5h1.8M85.8 170.5h1.8M89.6 166.3h1.8M103.0 172.6h1.8M106.8 205.9h1.8M108.8 170.5h1.8M110.7 205.9h1.8M112.6 170.5h1.8M114.5 168.4h1.8M116.4 199.7h1.8M116.4 166.3h1.8M118.3 168.4h1.8M120.2 199.7h1.8M124.1 170.5h1.8M126.0 172.6h1.8M127.9 191.3h1.8M127.9 174.7h1.8M127.9 166.3h1.8M129.8 193.4h1.8M131.7 191.3h1.8M131.7 174.7h1.8M131.7 170.5h1.8M137.5 180.9h1.8M139.4 183.0h1.8M139.4 174.7h1.8" stroke="#64a9d3"/><path d="M59.0 208.0h1.8M60.9 235.1h1.8M62.8 220.5h1.8M62.8 216.3h1.8M64.7 226.8h1.8M64.7 222.6h1.8M66.6 208.0h1.8M70.5 220.5h1.8M70.5 212.2h1.8M72.4 214.3h1.8M72.4 210.1h1.8" stroke="#08509b"/><path d="M59.0 187.2h1.8M66.6 178.8h1.8M68.5 239.3h1.8M68.5 180.9h1.8M72.4 172.6h1.8M76.2 176.8h1.8M78.1 178.8h1.8M78.1 174.7h1.8M81.9 170.5h1.8M87.7 218.4h1.8M91.5 168.4h1.8M93.4 170.5h1.8M95.3 214.3h1.8M104.9 208.0h1.8M112.6 203.8h1.8M112.6 166.3h1.8M114.5 176.8h1.8M114.5 172.6h1.8M116.4 174.7h1.8M118.3 172.6h1.8M122.2 197.6h1.8M126.0 189.3h1.8M126.0 185.1h1.8M126.0 180.9h1.8M129.8 168.4h1.8M131.7 178.8h1.8M133.7 180.9h1.8M135.6 183.0h1.8M135.6 178.8h1.8" stroke="#5da5d1"/><path d="M60.9 230.9h1.8M60.9 226.8h1.8M60.9 222.6h1.8M60.9 218.4h1.8M64.7 210.1h1.8M68.5 214.3h1.8M70.5 216.3h1.8M72.4 218.4h1.8" stroke="#084b93"/><path d="M60.9 168.4h1.8M64.7 164.3h1.8M66.6 170.5h1.8M66.6 166.3h1.8M68.5 243.4h1.8M68.5 168.4h1.8M70.5 162.2h1.8M70.5 158.0h1.8M74.3 162.2h1.8M76.2 239.3h1.8M76.2 160.1h1.8M80.0 155.9h1.8M85.8 228.8h1.8M93.4 224.7h1.8M93.4 158.0h1.8M97.3 220.5h1.8M101.1 153.8h1.8M104.9 158.0h1.8M108.8 153.8h1.8M114.5 155.9h1.8M114.5 151.8h1.8M116.4 208.0h1.8M118.3 151.8h1.8M118.3 147.6h1.8M124.1 153.8h1.8M127.9 199.7h1.8M129.8 147.6h1.8M133.7 155.9h1.8M133.7 151.8h1.8M137.5 193.4h1.8M137.5 151.8h1.8M143.2 187.2h1.8M143.2 153.8h1.8M145.1 176.8h1.8M147.1 174.7h1.8M147.1 170.5h1.8M149.0 155.9h1.8M150.9 174.7h1.8M150.9 170.5h1.8M152.8 176.8h1.8" stroke="#a5cde3"/><path d="M62.8 233.0h1.8M62.8 228.8h1.8M64.7 218.4h1.8M64.7 214.3h1.8M66.6 224.7h1.8M66.6 220.5h1.8" stroke="#08468b"/></g><line x1="49" y1="267.5" x2="193" y2="27.9" stroke="#000" stroke-width="1.25"/><path d="M49 267.5v-4.4M49 27.9v4.4M81 267.5v-4.4M81 27.9v4.4M113 267.5v-4.4M113 27.9v4.4M145 267.5v-4.4M145 27.9v4.4M177 267.5v-4.4M177 27.9v4.4M209 267.5v-4.4M209 27.9v4.4M241 267.5v-4.4M241 27.9v4.4M49 267.5h4.4M241 267.5h-4.4M49 240.88h4.4M241 240.88h-4.4M49 214.26h4.4M241 214.26h-4.4M49 187.63h4.4M241 187.63h-4.4M49 161.01h4.4M241 161.01h-4.4M49 134.39h4.4M241 134.39h-4.4M49 107.77h4.4M241 107.77h-4.4M49 81.14h4.4M241 81.14h-4.4M49 54.52h4.4M241 54.52h-4.4M49 27.9h4.4M241 27.9h-4.4" stroke="#000" stroke-width="0.7" fill="none"/><rect x="49" y="27.9" width="192" height="239.6" fill="none" stroke="#000" stroke-width="1.35"/><g class="tk"><text x="49" y="283.6" text-anchor="middle">0</text><text x="81" y="283.6" text-anchor="middle">10</text><text x="113" y="283.6" text-anchor="middle">20</text><text x="145" y="283.6" text-anchor="middle">30</text><text x="177" y="283.6" text-anchor="middle">40</text><text x="209" y="283.6" text-anchor="middle">50</text><text x="241" y="283.6" text-anchor="middle">60</text><text x="44.7" y="271" text-anchor="end">0</text><text x="44.7" y="244.38" text-anchor="end">5</text><text x="44.7" y="217.76" text-anchor="end">10</text><text x="44.7" y="191.13" text-anchor="end">15</text><text x="44.7" y="164.51" text-anchor="end">20</text><text x="44.7" y="137.89" text-anchor="end">25</text><text x="44.7" y="111.27" text-anchor="end">30</text><text x="44.7" y="84.64" text-anchor="end">35</text><text x="44.7" y="58.02" text-anchor="end">40</text><text x="44.7" y="31.4" text-anchor="end">45</text></g><text class="lb" x="144.35" y="303.7" text-anchor="middle" textLength="104" lengthAdjust="spacingAndGlyphs">Degree of node</text><text class="lb" transform="translate(18.2 147.7) rotate(-90)" x="0" y="0" text-anchor="middle" textLength="176.5" lengthAdjust="spacingAndGlyphs">Mean degree of neighbors</text><linearGradient id="gAtop" x1="0" y1="0" x2="0" y2="1"><stop offset="0.0000" stop-color="#08306b"/><stop offset="0.0625" stop-color="#084082"/><stop offset="0.1250" stop-color="#08509b"/><stop offset="0.1875" stop-color="#1460a8"/><stop offset="0.2500" stop-color="#2070b4"/><stop offset="0.3125" stop-color="#3181bd"/><stop offset="0.3750" stop-color="#4191c6"/><stop offset="0.4375" stop-color="#56a0ce"/><stop offset="0.5000" stop-color="#6aaed6"/><stop offset="0.5625" stop-color="#84bcdb"/><stop offset="0.6250" stop-color="#9dcae1"/><stop offset="0.6875" stop-color="#b2d2e8"/><stop offset="0.7500" stop-color="#c6dbef"/><stop offset="0.8125" stop-color="#d2e3f3"/><stop offset="0.8750" stop-color="#deebf7"/><stop offset="0.9375" stop-color="#eaf3fb"/><stop offset="1.0000" stop-color="#f7fbff"/></linearGradient><rect x="252.8" y="27.9" width="12.7" height="239.6" fill="url(#gAtop)" stroke="#000" stroke-width="1.3"/><path d="M265.5 235.7h-4.4M265.5 203.9h-4.4M265.5 172.1h-4.4M265.5 140.3h-4.4M265.5 108.5h-4.4M265.5 76.7h-4.4M265.5 44.9h-4.4" stroke="#000" stroke-width="0.7"/><g class="tk"><text x="268.5" y="270.9">0.0</text><text x="268.5" y="239.1">0.4</text><text x="268.5" y="207.3">0.8</text><text x="268.5" y="175.5">1.2</text><text x="268.5" y="143.7">1.6</text><text x="268.5" y="111.9">2.0</text><text x="268.5" y="80.1">2.4</text><text x="268.5" y="48.3">2.8</text></g><text class="lb" transform="translate(304.5 148.2) rotate(-90)" text-anchor="middle" textLength="94.3" lengthAdjust="spacingAndGlyphs">log10 of count</text><clipPath id="clp1"><rect x="366.8" y="27.9" width="191.8" height="239.6"/></clipPath><g clip-path="url(#clp1)" stroke-width="3.24" stroke-linecap="round" fill="none"><path d="M369.1 258.0h1.8" stroke="#ffea00"/><path d="M369.1 245.5h1.8M369.1 241.3h1.8M372.9 253.8h1.8" stroke="#ffca00"/><path d="M369.1 228.8h1.8M372.9 245.5h1.8M374.8 251.8h1.8" stroke="#ffb500"/><path d="M369.1 224.7h1.8M369.1 112.2h1.8M372.9 241.3h1.8M376.7 249.7h1.8M380.6 249.7h1.8" stroke="#ffaa00"/><path d="M369.1 220.5h1.8M372.9 249.7h1.8M374.8 255.9h1.8M376.7 253.8h1.8" stroke="#ffba00"/><path d="M369.1 208.0h1.8M369.1 203.8h1.8M369.1 166.3h1.8M369.3 32.8h1.8" stroke="#ffbf00"/><path d="M369.1 187.2h1.8M369.1 162.2h1.8M369.1 128.9h1.8M371.0 235.1h1.8M372.9 233.0h1.8M376.7 245.5h1.8" stroke="#ff9f00"/><path d="M369.1 183.0h1.8" stroke="#ff9500"/><path d="M369.1 170.5h1.8M371.0 243.4h1.8" stroke="#ffaf00"/><path d="M369.1 149.7h1.8M371.0 201.8h1.8M371.0 139.3h1.8M371.0 105.9h1.8M372.9 195.5h1.8M372.9 187.2h1.8M372.9 141.4h1.8M374.8 230.9h1.8M374.8 155.9h1.8M376.7 233.0h1.8" stroke="#ff7f00"/><path d="M369.1 145.5h1.8M371.0 205.9h1.8M371.0 197.6h1.8M372.9 212.2h1.8M372.9 208.0h1.8M372.9 203.8h1.8M378.7 243.4h1.8M392.1 249.7h1.8" stroke="#ff8500"/><path d="M369.1 108.0h1.8M371.0 230.9h1.8M371.0 226.8h1.8M374.8 243.4h1.8M378.7 251.8h1.8" stroke="#ff9a00"/><path d="M371.0 260.1h1.8" stroke="#ffdf00"/><path d="M371.0 251.8h1.8" stroke="#ffc500"/><path d="M371.0 222.6h1.8M372.9 224.7h1.8M372.9 216.3h1.8M374.8 239.3h1.8M376.7 241.3h1.8" stroke="#ff8f00"/><path d="M371.0 214.3h1.8M371.0 155.9h1.8M371.0 147.6h1.8M371.0 118.4h1.8M372.9 220.5h1.8M374.8 235.1h1.8M376.7 237.2h1.8M378.7 247.6h1.8M380.6 245.5h1.8" stroke="#ff8a00"/><path d="M371.0 193.4h1.8M371.0 185.1h1.8M371.0 164.3h1.8M372.9 191.3h1.8M372.9 174.7h1.8M372.9 166.3h1.8M372.9 116.4h1.8M374.8 130.9h1.8M376.7 228.8h1.8M378.7 239.3h1.8M380.6 241.3h1.8M382.5 243.4h1.8" stroke="#ff7a00"/><path d="M371.0 176.8h1.8M371.0 168.4h1.8M371.0 160.1h1.8M372.9 178.8h1.8M372.9 128.9h1.8M372.9 120.5h1.8M374.8 226.8h1.8M374.8 222.6h1.8M374.8 122.6h1.8M376.7 224.7h1.8M388.2 249.7h1.8M390.1 255.9h1.8M380.8 65.6h1.8" stroke="#ff7500"/><path d="M371.0 130.9h1.8M372.9 258.0h1.8" stroke="#ffcf00"/><path d="M371.0 101.8h1.8M374.8 168.4h1.8M376.7 153.8h1.8M378.7 180.9h1.8M378.7 164.3h1.8M378.7 135.1h1.8M380.6 199.7h1.8M380.6 195.5h1.8M380.6 191.3h1.8M380.6 187.2h1.8M380.6 170.5h1.8M380.6 158.0h1.8M382.5 210.1h1.8M382.5 205.9h1.8M382.5 201.8h1.8M384.4 220.5h1.8M384.4 120.5h1.8M386.3 222.6h1.8M388.2 237.2h1.8M388.2 228.8h1.8M392.1 233.0h1.8M392.1 149.7h1.8M386.1 100.6h1.8" stroke="#ff3f00"/><path d="M372.9 237.2h1.8M374.8 247.6h1.8" stroke="#ffa500"/><path d="M372.9 183.0h1.8M372.9 153.8h1.8M374.8 218.4h1.8M376.7 220.5h1.8M376.7 216.3h1.8M378.7 235.1h1.8M380.6 237.2h1.8M395.9 249.7h1.8" stroke="#ff6f00"/><path d="M372.9 170.5h1.8M372.9 158.0h1.8M374.8 214.3h1.8M374.8 210.1h1.8M376.7 212.2h1.8M376.7 208.0h1.8M382.5 239.3h1.8M390.1 247.6h1.8M378.6 96.5h1.8" stroke="#ff6a00"/><path d="M372.9 137.2h1.8M376.7 158.0h1.8M378.7 172.6h1.8M380.6 183.0h1.8M380.6 178.8h1.8M380.6 162.2h1.8M382.5 197.6h1.8M382.5 193.4h1.8M382.5 189.3h1.8M382.5 180.9h1.8M382.5 147.6h1.8M384.4 216.3h1.8M386.3 218.4h1.8M386.3 214.3h1.8M386.3 155.9h1.8M388.2 224.7h1.8M390.1 230.9h1.8M390.1 226.8h1.8" stroke="#ff3a00"/><path d="M372.9 124.7h1.8M378.7 189.3h1.8M378.7 143.4h1.8M378.7 130.9h1.8M378.7 105.9h1.8M380.6 203.8h1.8M382.5 214.3h1.8M384.4 228.8h1.8M384.4 224.7h1.8M386.3 226.8h1.8M388.2 241.3h1.8M388.2 233.0h1.8M390.1 239.3h1.8M390.1 235.1h1.8M392.1 241.3h1.8M392.1 237.2h1.8M395.9 237.2h1.8M374.8 92.2h1.8" stroke="#ff4500"/><path d="M374.8 205.9h1.8M374.8 185.1h1.8M374.8 164.3h1.8M376.7 203.8h1.8M376.7 199.7h1.8M376.7 195.5h1.8M378.7 230.9h1.8M378.7 226.8h1.8M378.7 151.8h1.8M380.6 233.0h1.8M374.8 63.5h1.8M371.1 68.1h1.8M375.5 68.1h1.8M373.0 78.1h1.8M371.1 96.5h1.8" stroke="#ff6500"/><path d="M374.8 201.8h1.8M374.8 197.6h1.8M374.8 193.4h1.8M374.8 180.9h1.8M374.8 172.6h1.8M378.7 222.6h1.8M382.5 235.1h1.8M386.3 247.6h1.8M394.0 243.4h1.8" stroke="#ff5f00"/><path d="M374.8 189.3h1.8M376.7 191.3h1.8M376.7 187.2h1.8M376.7 178.8h1.8M376.7 174.7h1.8M376.7 149.7h1.8M376.7 124.7h1.8M378.7 218.4h1.8M380.6 228.8h1.8M382.5 230.9h1.8M384.4 237.2h1.8M386.3 239.3h1.8M388.2 245.5h1.8M390.1 243.4h1.8" stroke="#ff5a00"/><path d="M374.8 176.8h1.8M374.8 147.6h1.8M376.7 183.0h1.8M378.7 214.3h1.8M378.7 210.1h1.8M378.7 155.9h1.8M378.7 118.4h1.8M380.6 224.7h1.8M380.6 220.5h1.8M382.5 226.8h1.8M382.5 143.4h1.8M382.5 130.9h1.8M386.3 235.1h1.8M392.1 245.5h1.8" stroke="#ff5500"/><path d="M374.8 110.1h1.8M376.7 170.5h1.8M376.7 120.5h1.8M378.7 205.9h1.8M378.7 201.8h1.8M378.7 176.8h1.8M380.6 216.3h1.8M382.5 222.6h1.8M384.4 241.3h1.8M386.3 230.9h1.8M390.1 251.8h1.8M395.9 241.3h1.8" stroke="#ff4f00"/><path d="M376.7 166.3h1.8M378.7 197.6h1.8M378.7 193.4h1.8M378.7 185.1h1.8M380.6 212.2h1.8M380.6 208.0h1.8M380.6 120.5h1.8M382.5 218.4h1.8M384.4 245.5h1.8M384.4 233.0h1.8M386.3 243.4h1.8M394.0 239.3h1.8M384.6 94.4h1.8" stroke="#ff4a00"/><path d="M376.7 162.2h1.8M380.6 166.3h1.8M380.6 145.5h1.8M382.5 176.8h1.8M382.5 164.3h1.8M382.5 160.1h1.8M384.4 199.7h1.8M384.4 195.5h1.8M384.4 187.2h1.8M384.4 145.5h1.8M386.3 197.6h1.8M386.3 193.4h1.8M386.3 189.3h1.8M386.3 185.1h1.8M388.2 220.5h1.8M388.2 216.3h1.8M388.2 212.2h1.8M390.1 222.6h1.8M390.1 218.4h1.8M392.1 224.7h1.8M394.0 230.9h1.8M394.0 226.8h1.8M395.9 233.0h1.8M395.9 228.8h1.8M401.6 235.1h1.8M407.4 228.8h1.8M409.3 235.1h1.8M413.1 230.9h1.8" stroke="#ff2f00"/><path d="M378.7 168.4h1.8M378.7 160.1h1.8M378.7 147.6h1.8M378.7 122.6h1.8M378.7 114.3h1.8M380.6 174.7h1.8M380.6 149.7h1.8M380.6 141.4h1.8M382.5 185.1h1.8M382.5 126.8h1.8M382.5 118.4h1.8M384.4 212.2h1.8M384.4 208.0h1.8M384.4 203.8h1.8M386.3 210.1h1.8M386.3 205.9h1.8M386.3 201.8h1.8M386.3 168.4h1.8M392.1 228.8h1.8M394.0 235.1h1.8M401.6 239.3h1.8M407.4 237.2h1.8M386.1 80.0h1.8" stroke="#ff3500"/><path d="M380.6 153.8h1.8M380.6 103.9h1.8M384.4 170.5h1.8M384.4 153.8h1.8M386.3 160.1h1.8M386.3 139.3h1.8M388.2 191.3h1.8M388.2 187.2h1.8M388.2 183.0h1.8M388.2 174.7h1.8M388.2 124.7h1.8M390.1 193.4h1.8M390.1 189.3h1.8M390.1 185.1h1.8M390.1 172.6h1.8M390.1 147.6h1.8M390.1 118.4h1.8M392.1 203.8h1.8M392.1 199.7h1.8M392.1 195.5h1.8M394.0 214.3h1.8M394.0 210.1h1.8M394.0 130.9h1.8M395.9 212.2h1.8M395.9 208.0h1.8M395.9 137.2h1.8M397.8 235.1h1.8M397.8 222.6h1.8M399.7 237.2h1.8M399.7 224.7h1.8M399.7 220.5h1.8M401.6 230.9h1.8M401.6 226.8h1.8M401.6 222.6h1.8M405.4 230.9h1.8M411.2 224.7h1.8M413.1 226.8h1.8" stroke="#ff1f00"/><path d="M382.5 172.6h1.8M382.5 168.4h1.8M384.4 191.3h1.8M384.4 183.0h1.8M384.4 149.7h1.8M384.4 112.2h1.8M386.3 180.9h1.8M386.3 176.8h1.8M386.3 172.6h1.8M388.2 208.0h1.8M388.2 203.8h1.8M388.2 199.7h1.8M388.2 166.3h1.8M388.2 141.4h1.8M390.1 214.3h1.8M392.1 220.5h1.8M392.1 216.3h1.8M395.9 224.7h1.8M397.8 239.3h1.8M397.8 226.8h1.8M399.7 228.8h1.8M403.5 233.0h1.8" stroke="#ff2a00"/><path d="M382.5 155.9h1.8M384.4 158.0h1.8M388.2 158.0h1.8M390.1 180.9h1.8M390.1 176.8h1.8M390.1 135.1h1.8M392.1 191.3h1.8M392.1 187.2h1.8M392.1 183.0h1.8M392.1 178.8h1.8M392.1 174.7h1.8M392.1 170.5h1.8M392.1 153.8h1.8M392.1 145.5h1.8M392.1 112.2h1.8M394.0 205.9h1.8M394.0 201.8h1.8M394.0 197.6h1.8M394.0 193.4h1.8M394.0 164.3h1.8M394.0 122.6h1.8M395.9 203.8h1.8M395.9 199.7h1.8M395.9 195.5h1.8M395.9 191.3h1.8M395.9 166.3h1.8M397.8 218.4h1.8M397.8 214.3h1.8M397.8 210.1h1.8M397.8 135.1h1.8M399.7 233.0h1.8M399.7 216.3h1.8M399.7 133.0h1.8M401.6 218.4h1.8M401.6 114.3h1.8M403.5 224.7h1.8M405.4 226.8h1.8M405.4 222.6h1.8M405.4 218.4h1.8M407.4 233.0h1.8M411.2 145.5h1.8M434.1 216.3h1.8" stroke="#ff1a00"/><path d="M382.5 151.8h1.8M388.2 149.7h1.8M390.1 126.8h1.8M394.0 151.8h1.8M394.0 143.4h1.8M397.8 130.9h1.8M399.7 141.4h1.8M401.6 151.8h1.8M403.5 153.8h1.8M403.5 128.9h1.8M405.4 168.4h1.8M405.4 155.9h1.8M405.4 143.4h1.8M405.4 130.9h1.8M407.4 158.0h1.8M407.4 141.4h1.8M407.4 128.9h1.8M409.3 164.3h1.8M409.3 160.1h1.8M409.3 143.4h1.8M409.3 130.9h1.8M409.3 126.8h1.8M411.2 178.8h1.8M411.2 170.5h1.8M411.2 166.3h1.8M411.2 158.0h1.8M411.2 153.8h1.8M411.2 133.0h1.8M413.1 185.1h1.8M413.1 176.8h1.8M413.1 172.6h1.8M413.1 168.4h1.8M413.1 164.3h1.8M413.1 160.1h1.8M413.1 155.9h1.8M413.1 151.8h1.8M413.1 147.6h1.8M413.1 126.8h1.8M413.1 105.9h1.8M415.0 224.7h1.8M415.0 220.5h1.8M415.0 178.8h1.8M415.0 170.5h1.8M415.0 162.2h1.8M415.0 145.5h1.8M415.0 120.5h1.8M416.9 214.3h1.8M416.9 189.3h1.8M416.9 185.1h1.8M416.9 180.9h1.8M416.9 172.6h1.8M416.9 168.4h1.8M416.9 164.3h1.8M416.9 155.9h1.8M416.9 147.6h1.8M416.9 143.4h1.8M416.9 114.3h1.8M418.8 224.7h1.8M418.8 191.3h1.8M418.8 187.2h1.8M418.8 183.0h1.8M418.8 178.8h1.8M418.8 174.7h1.8M418.8 170.5h1.8M418.8 166.3h1.8M418.8 162.2h1.8M418.8 158.0h1.8M418.8 153.8h1.8M418.8 149.7h1.8M418.8 145.5h1.8M420.8 205.9h1.8M420.8 197.6h1.8M420.8 193.4h1.8M420.8 189.3h1.8M420.8 185.1h1.8M420.8 180.9h1.8M420.8 176.8h1.8M420.8 172.6h1.8M420.8 168.4h1.8M420.8 164.3h1.8M420.8 160.1h1.8M420.8 155.9h1.8M420.8 151.8h1.8M420.8 143.4h1.8M420.8 139.3h1.8M422.7 208.0h1.8M422.7 199.7h1.8M422.7 195.5h1.8M422.7 191.3h1.8M422.7 187.2h1.8M422.7 183.0h1.8M422.7 178.8h1.8M422.7 174.7h1.8M422.7 170.5h1.8M422.7 166.3h1.8M422.7 162.2h1.8M422.7 158.0h1.8M422.7 153.8h1.8M422.7 145.5h1.8M424.6 222.6h1.8M424.6 201.8h1.8M424.6 197.6h1.8M424.6 193.4h1.8M424.6 189.3h1.8M424.6 185.1h1.8M424.6 180.9h1.8M424.6 176.8h1.8M424.6 172.6h1.8M424.6 168.4h1.8M424.6 164.3h1.8M424.6 160.1h1.8M424.6 155.9h1.8M424.6 151.8h1.8M424.6 147.6h1.8M424.6 135.1h1.8M426.5 220.5h1.8M426.5 216.3h1.8M426.5 208.0h1.8M426.5 203.8h1.8M426.5 199.7h1.8M426.5 195.5h1.8M426.5 191.3h1.8M426.5 187.2h1.8M426.5 183.0h1.8M426.5 178.8h1.8M426.5 174.7h1.8M426.5 170.5h1.8M426.5 166.3h1.8M426.5 162.2h1.8M426.5 153.8h1.8M426.5 149.7h1.8M426.5 145.5h1.8M426.5 141.4h1.8M426.5 137.2h1.8M426.5 133.0h1.8M428.4 222.6h1.8M428.4 210.1h1.8M428.4 201.8h1.8M428.4 197.6h1.8M428.4 193.4h1.8M428.4 189.3h1.8M428.4 185.1h1.8M428.4 180.9h1.8M428.4 176.8h1.8M428.4 172.6h1.8M428.4 168.4h1.8M428.4 164.3h1.8M428.4 160.1h1.8M428.4 155.9h1.8M428.4 151.8h1.8M428.4 143.4h1.8M428.4 139.3h1.8M430.3 212.2h1.8M430.3 203.8h1.8M430.3 199.7h1.8M430.3 195.5h1.8M430.3 191.3h1.8M430.3 187.2h1.8M430.3 183.0h1.8M430.3 178.8h1.8M430.3 174.7h1.8M430.3 166.3h1.8M430.3 162.2h1.8M430.3 158.0h1.8M430.3 153.8h1.8M430.3 149.7h1.8M430.3 137.2h1.8M432.2 210.1h1.8M432.2 205.9h1.8M432.2 201.8h1.8M432.2 197.6h1.8M432.2 193.4h1.8M432.2 189.3h1.8M432.2 185.1h1.8M432.2 180.9h1.8M432.2 176.8h1.8M432.2 172.6h1.8M432.2 168.4h1.8M432.2 164.3h1.8M432.2 160.1h1.8M432.2 155.9h1.8M432.2 151.8h1.8M432.2 143.4h1.8M432.2 139.3h1.8M434.1 208.0h1.8M434.1 203.8h1.8M434.1 199.7h1.8M434.1 195.5h1.8M434.1 191.3h1.8M434.1 187.2h1.8M434.1 183.0h1.8M434.1 178.8h1.8M434.1 174.7h1.8M434.1 170.5h1.8M434.1 162.2h1.8M434.1 158.0h1.8M434.1 145.5h1.8M434.1 141.4h1.8M434.1 137.2h1.8M434.1 133.0h1.8M434.1 128.9h1.8M436.1 210.1h1.8M436.1 205.9h1.8M436.1 201.8h1.8M436.1 197.6h1.8M436.1 193.4h1.8M436.1 189.3h1.8M436.1 185.1h1.8M436.1 180.9h1.8M436.1 176.8h1.8M436.1 172.6h1.8M436.1 168.4h1.8M436.1 164.3h1.8M436.1 160.1h1.8M436.1 155.9h1.8M436.1 143.4h1.8M436.1 126.8h1.8M438.0 208.0h1.8M438.0 203.8h1.8M438.0 199.7h1.8M438.0 195.5h1.8M438.0 191.3h1.8M438.0 187.2h1.8M438.0 183.0h1.8M438.0 178.8h1.8M438.0 174.7h1.8M438.0 170.5h1.8M438.0 166.3h1.8M438.0 162.2h1.8M438.0 158.0h1.8M438.0 153.8h1.8M438.0 149.7h1.8M438.0 145.5h1.8M438.0 137.2h1.8M438.0 128.9h1.8M439.9 201.8h1.8M439.9 197.6h1.8M439.9 193.4h1.8M439.9 189.3h1.8M439.9 185.1h1.8M439.9 180.9h1.8M439.9 176.8h1.8M439.9 172.6h1.8M439.9 168.4h1.8M439.9 160.1h1.8M439.9 155.9h1.8M439.9 147.6h1.8M439.9 143.4h1.8M439.9 139.3h1.8M439.9 135.1h1.8M441.8 208.0h1.8M441.8 203.8h1.8M441.8 199.7h1.8M441.8 195.5h1.8M441.8 187.2h1.8M441.8 183.0h1.8M441.8 178.8h1.8M441.8 174.7h1.8M441.8 170.5h1.8M441.8 166.3h1.8M441.8 162.2h1.8M441.8 158.0h1.8M441.8 153.8h1.8M441.8 149.7h1.8M441.8 145.5h1.8M441.8 141.4h1.8M443.7 210.1h1.8M443.7 205.9h1.8M443.7 201.8h1.8M443.7 197.6h1.8M443.7 189.3h1.8M443.7 185.1h1.8M443.7 180.9h1.8M443.7 172.6h1.8M443.7 164.3h1.8M443.7 160.1h1.8M443.7 139.3h1.8M443.7 135.1h1.8M445.6 208.0h1.8M445.6 195.5h1.8M445.6 191.3h1.8M445.6 187.2h1.8M445.6 183.0h1.8M445.6 178.8h1.8M445.6 174.7h1.8M445.6 170.5h1.8M445.6 162.2h1.8M445.6 158.0h1.8M445.6 153.8h1.8M445.6 149.7h1.8M445.6 133.0h1.8M445.6 124.7h1.8M445.6 112.2h1.8M447.5 205.9h1.8M447.5 197.6h1.8M447.5 189.3h1.8M447.5 185.1h1.8M447.5 180.9h1.8M447.5 176.8h1.8M447.5 172.6h1.8M447.5 168.4h1.8M447.5 164.3h1.8M447.5 160.1h1.8M447.5 155.9h1.8M447.5 147.6h1.8M447.5 143.4h1.8M447.5 135.1h1.8M447.5 130.9h1.8M449.5 208.0h1.8M449.5 203.8h1.8M449.5 195.5h1.8M449.5 187.2h1.8M449.5 183.0h1.8M449.5 178.8h1.8M449.5 170.5h1.8M449.5 166.3h1.8M449.5 162.2h1.8M449.5 158.0h1.8M449.5 153.8h1.8M449.5 149.7h1.8M449.5 145.5h1.8M451.4 185.1h1.8M451.4 180.9h1.8M451.4 172.6h1.8M451.4 168.4h1.8M451.4 155.9h1.8M451.4 147.6h1.8M451.4 139.3h1.8M453.3 203.8h1.8M453.3 199.7h1.8M453.3 195.5h1.8M453.3 191.3h1.8M453.3 183.0h1.8M453.3 174.7h1.8M453.3 162.2h1.8M453.3 158.0h1.8M453.3 153.8h1.8M453.3 149.7h1.8M453.3 141.4h1.8M455.2 201.8h1.8M455.2 185.1h1.8M455.2 176.8h1.8M455.2 172.6h1.8M455.2 164.3h1.8M455.2 160.1h1.8M455.2 151.8h1.8M455.2 147.6h1.8M455.2 139.3h1.8M457.1 195.5h1.8M457.1 191.3h1.8M457.1 183.0h1.8M457.1 174.7h1.8M457.1 170.5h1.8M457.1 166.3h1.8M457.1 162.2h1.8M457.1 153.8h1.8M457.1 149.7h1.8M457.1 145.5h1.8M457.1 128.9h1.8M459.0 205.9h1.8M459.0 197.6h1.8M459.0 193.4h1.8M459.0 185.1h1.8M459.0 180.9h1.8M459.0 172.6h1.8M459.0 164.3h1.8M459.0 147.6h1.8M459.0 139.3h1.8M459.0 118.4h1.8M459.0 114.3h1.8M460.9 178.8h1.8M460.9 170.5h1.8M460.9 166.3h1.8M460.9 162.2h1.8M462.8 197.6h1.8M462.8 189.3h1.8M462.8 185.1h1.8M462.8 180.9h1.8M462.8 168.4h1.8M462.8 164.3h1.8M462.8 160.1h1.8M462.8 155.9h1.8M462.8 151.8h1.8M462.8 139.3h1.8M464.8 199.7h1.8M464.8 187.2h1.8M464.8 174.7h1.8M464.8 170.5h1.8M464.8 166.3h1.8M464.8 162.2h1.8M464.8 153.8h1.8M464.8 141.4h1.8M464.8 133.0h1.8M464.8 112.2h1.8M466.7 193.4h1.8M466.7 189.3h1.8M466.7 185.1h1.8M466.7 176.8h1.8M466.7 155.9h1.8M466.7 151.8h1.8M466.7 143.4h1.8M466.7 139.3h1.8M466.7 130.9h1.8M468.6 199.7h1.8M468.6 191.3h1.8M468.6 183.0h1.8M468.6 178.8h1.8M468.6 170.5h1.8M468.6 166.3h1.8M468.6 158.0h1.8M468.6 153.8h1.8M468.6 149.7h1.8M470.5 189.3h1.8M470.5 168.4h1.8M470.5 164.3h1.8M470.5 155.9h1.8M470.5 151.8h1.8M470.5 130.9h1.8M472.4 174.7h1.8M472.4 166.3h1.8M472.4 158.0h1.8M472.4 153.8h1.8M472.4 149.7h1.8M472.4 145.5h1.8M474.3 197.6h1.8M474.3 193.4h1.8M474.3 185.1h1.8M474.3 180.9h1.8M476.2 178.8h1.8M476.2 170.5h1.8M476.2 162.2h1.8M476.2 128.9h1.8M478.1 176.8h1.8M478.1 164.3h1.8M480.1 178.8h1.8M480.1 170.5h1.8M480.1 166.3h1.8M480.1 141.4h1.8M482.0 155.9h1.8M483.9 124.7h1.8M485.8 176.8h1.8M485.8 172.6h1.8M485.8 168.4h1.8M485.8 164.3h1.8M485.8 160.1h1.8M485.8 151.8h1.8M485.8 139.3h1.8M485.8 126.8h1.8M489.6 189.3h1.8M489.6 160.1h1.8M489.6 155.9h1.8M491.5 128.9h1.8M493.5 160.1h1.8M497.3 139.3h1.8M491.5 65.6h1.8M484.1 73.7h1.8M462.4 80.0h1.8M464.7 82.3h1.8M490.9 98.4h1.8M498.5 115.2h1.8M504.1 113.1h1.8M515.6 109.0h1.8M512.8 115.2h1.8M509.1 152.4h1.8M522.8 158.4h1.8M536.5 165.0h1.8M512.8 160.5h1.8M504.1 174.7h1.8M505.3 183.1h1.8M483.3 109.0h1.8" stroke="#ff0500"/><path d="M382.5 110.1h1.8M384.4 116.4h1.8M388.2 133.0h1.8M390.1 139.3h1.8M394.0 172.6h1.8M394.0 135.1h1.8M395.9 174.7h1.8M395.9 153.8h1.8M397.8 185.1h1.8M397.8 180.9h1.8M397.8 172.6h1.8M397.8 164.3h1.8M399.7 187.2h1.8M399.7 183.0h1.8M399.7 178.8h1.8M399.7 174.7h1.8M399.7 170.5h1.8M399.7 166.3h1.8M399.7 162.2h1.8M399.7 145.5h1.8M399.7 124.7h1.8M401.6 197.6h1.8M401.6 193.4h1.8M401.6 189.3h1.8M401.6 185.1h1.8M401.6 180.9h1.8M401.6 176.8h1.8M401.6 172.6h1.8M401.6 122.6h1.8M403.5 203.8h1.8M403.5 199.7h1.8M403.5 195.5h1.8M403.5 191.3h1.8M403.5 187.2h1.8M403.5 137.2h1.8M405.4 214.3h1.8M405.4 205.9h1.8M405.4 201.8h1.8M405.4 197.6h1.8M405.4 189.3h1.8M405.4 180.9h1.8M405.4 151.8h1.8M407.4 216.3h1.8M407.4 208.0h1.8M407.4 203.8h1.8M407.4 199.7h1.8M409.3 222.6h1.8M409.3 214.3h1.8M409.3 210.1h1.8M409.3 147.6h1.8M411.2 216.3h1.8M411.2 212.2h1.8M413.1 222.6h1.8M413.1 218.4h1.8M413.1 214.3h1.8M415.0 228.8h1.8M415.0 212.2h1.8M415.0 112.2h1.8M416.9 226.8h1.8M416.9 218.4h1.8M418.8 128.9h1.8M420.8 222.6h1.8M422.7 224.7h1.8M422.7 220.5h1.8M424.6 218.4h1.8M424.6 214.3h1.8M426.5 228.8h1.8M430.3 224.7h1.8M430.3 216.3h1.8M439.9 214.3h1.8M459.0 201.8h1.8M474.3 189.3h1.8M391.1 100.6h1.8M486.5 78.1h1.8M529.1 119.3h1.8" stroke="#ff0f00"/><path d="M384.4 178.8h1.8M384.4 174.7h1.8M384.4 166.3h1.8M384.4 162.2h1.8M386.3 164.3h1.8M388.2 195.5h1.8M388.2 178.8h1.8M388.2 170.5h1.8M388.2 162.2h1.8M388.2 153.8h1.8M390.1 210.1h1.8M390.1 205.9h1.8M390.1 201.8h1.8M390.1 197.6h1.8M392.1 212.2h1.8M392.1 208.0h1.8M394.0 222.6h1.8M394.0 218.4h1.8M394.0 139.3h1.8M395.9 220.5h1.8M395.9 216.3h1.8M397.8 230.9h1.8M403.5 228.8h1.8M405.4 235.1h1.8M411.2 228.8h1.8M399.6 78.1h1.8M376.7 98.5h1.8" stroke="#ff2500"/><path d="M388.2 128.9h1.8M390.1 143.4h1.8M392.1 166.3h1.8M392.1 141.4h1.8M394.0 126.8h1.8M395.9 149.7h1.8M397.8 168.4h1.8M397.8 155.9h1.8M399.7 158.0h1.8M399.7 153.8h1.8M399.7 149.7h1.8M401.6 168.4h1.8M401.6 164.3h1.8M401.6 155.9h1.8M401.6 143.4h1.8M401.6 126.8h1.8M401.6 118.4h1.8M403.5 183.0h1.8M403.5 178.8h1.8M403.5 174.7h1.8M403.5 170.5h1.8M403.5 166.3h1.8M403.5 162.2h1.8M403.5 158.0h1.8M403.5 149.7h1.8M403.5 141.4h1.8M405.4 193.4h1.8M405.4 185.1h1.8M405.4 176.8h1.8M405.4 172.6h1.8M405.4 164.3h1.8M405.4 160.1h1.8M405.4 139.3h1.8M407.4 195.5h1.8M407.4 191.3h1.8M407.4 187.2h1.8M407.4 183.0h1.8M407.4 178.8h1.8M407.4 174.7h1.8M407.4 170.5h1.8M407.4 166.3h1.8M407.4 162.2h1.8M407.4 153.8h1.8M407.4 149.7h1.8M407.4 145.5h1.8M407.4 112.2h1.8M409.3 205.9h1.8M409.3 201.8h1.8M409.3 197.6h1.8M409.3 193.4h1.8M409.3 189.3h1.8M409.3 185.1h1.8M409.3 180.9h1.8M409.3 176.8h1.8M409.3 172.6h1.8M409.3 168.4h1.8M409.3 155.9h1.8M409.3 151.8h1.8M409.3 139.3h1.8M409.3 114.3h1.8M411.2 208.0h1.8M411.2 203.8h1.8M411.2 199.7h1.8M411.2 195.5h1.8M411.2 191.3h1.8M411.2 187.2h1.8M411.2 183.0h1.8M411.2 174.7h1.8M411.2 162.2h1.8M411.2 149.7h1.8M411.2 141.4h1.8M411.2 137.2h1.8M411.2 116.4h1.8M413.1 210.1h1.8M413.1 205.9h1.8M413.1 201.8h1.8M413.1 197.6h1.8M413.1 193.4h1.8M413.1 189.3h1.8M413.1 180.9h1.8M413.1 118.4h1.8M415.0 216.3h1.8M415.0 208.0h1.8M415.0 203.8h1.8M415.0 199.7h1.8M415.0 195.5h1.8M415.0 191.3h1.8M415.0 187.2h1.8M415.0 183.0h1.8M415.0 174.7h1.8M415.0 166.3h1.8M415.0 158.0h1.8M415.0 153.8h1.8M415.0 149.7h1.8M415.0 137.2h1.8M415.0 128.9h1.8M416.9 230.9h1.8M416.9 222.6h1.8M416.9 210.1h1.8M416.9 205.9h1.8M416.9 201.8h1.8M416.9 197.6h1.8M416.9 193.4h1.8M416.9 176.8h1.8M416.9 151.8h1.8M416.9 110.1h1.8M418.8 220.5h1.8M418.8 216.3h1.8M418.8 212.2h1.8M418.8 208.0h1.8M418.8 203.8h1.8M418.8 199.7h1.8M418.8 195.5h1.8M418.8 141.4h1.8M418.8 133.0h1.8M418.8 112.2h1.8M420.8 214.3h1.8M420.8 210.1h1.8M420.8 201.8h1.8M420.8 147.6h1.8M422.7 212.2h1.8M422.7 203.8h1.8M422.7 128.9h1.8M422.7 120.5h1.8M424.6 210.1h1.8M424.6 205.9h1.8M426.5 212.2h1.8M428.4 218.4h1.8M428.4 214.3h1.8M428.4 205.9h1.8M430.3 208.0h1.8M432.2 222.6h1.8M432.2 126.8h1.8M434.1 212.2h1.8M439.9 205.9h1.8M439.9 130.9h1.8M439.9 110.1h1.8M441.8 216.3h1.8M445.6 212.2h1.8M445.6 203.8h1.8M447.5 210.1h1.8M453.3 220.5h1.8M453.3 137.2h1.8M453.3 112.2h1.8M457.1 199.7h1.8M460.9 116.4h1.8M468.6 145.5h1.8M482.0 164.3h1.8M487.7 170.5h1.8M493.5 155.9h1.8M399.6 98.5h1.8M545.9 100.6h1.8M512.8 136.0h1.8M542.1 170.6h1.8M555.9 178.7h1.8M492.7 113.1h1.8" stroke="#ff0a00"/><path d="M390.1 168.4h1.8M390.1 164.3h1.8M390.1 160.1h1.8M390.1 155.9h1.8M392.1 162.2h1.8M392.1 158.0h1.8M392.1 128.9h1.8M394.0 189.3h1.8M394.0 185.1h1.8M394.0 180.9h1.8M394.0 176.8h1.8M394.0 168.4h1.8M394.0 160.1h1.8M394.0 155.9h1.8M394.0 147.6h1.8M395.9 187.2h1.8M395.9 183.0h1.8M395.9 178.8h1.8M395.9 170.5h1.8M395.9 162.2h1.8M395.9 158.0h1.8M395.9 124.7h1.8M397.8 205.9h1.8M397.8 201.8h1.8M397.8 197.6h1.8M397.8 193.4h1.8M397.8 189.3h1.8M397.8 176.8h1.8M397.8 160.1h1.8M397.8 151.8h1.8M397.8 147.6h1.8M397.8 143.4h1.8M397.8 105.9h1.8M399.7 212.2h1.8M399.7 208.0h1.8M399.7 203.8h1.8M399.7 199.7h1.8M399.7 195.5h1.8M399.7 191.3h1.8M401.6 214.3h1.8M401.6 210.1h1.8M401.6 205.9h1.8M401.6 201.8h1.8M401.6 160.1h1.8M401.6 147.6h1.8M403.5 220.5h1.8M403.5 216.3h1.8M403.5 212.2h1.8M403.5 208.0h1.8M403.5 145.5h1.8M405.4 210.1h1.8M405.4 147.6h1.8M405.4 101.8h1.8M407.4 224.7h1.8M407.4 220.5h1.8M407.4 212.2h1.8M409.3 230.9h1.8M409.3 226.8h1.8M409.3 218.4h1.8M411.2 220.5h1.8M411.2 108.0h1.8M420.8 218.4h1.8" stroke="#ff1500"/><path d="M390.1 122.6h1.8M394.0 110.1h1.8M399.7 137.2h1.8M399.7 128.9h1.8M403.5 133.0h1.8M405.4 135.1h1.8M405.4 126.8h1.8M407.4 137.2h1.8M407.4 120.5h1.8M409.3 122.6h1.8M411.2 128.9h1.8M413.1 143.4h1.8M413.1 135.1h1.8M413.1 110.1h1.8M415.0 141.4h1.8M416.9 160.1h1.8M416.9 139.3h1.8M416.9 130.9h1.8M416.9 126.8h1.8M416.9 101.8h1.8M418.8 137.2h1.8M418.8 124.7h1.8M420.8 135.1h1.8M420.8 130.9h1.8M420.8 126.8h1.8M422.7 216.3h1.8M422.7 149.7h1.8M422.7 141.4h1.8M424.6 230.9h1.8M424.6 126.8h1.8M426.5 158.0h1.8M426.5 124.7h1.8M426.5 120.5h1.8M428.4 147.6h1.8M428.4 135.1h1.8M428.4 126.8h1.8M428.4 122.6h1.8M430.3 170.5h1.8M430.3 145.5h1.8M430.3 141.4h1.8M430.3 133.0h1.8M430.3 128.9h1.8M432.2 218.4h1.8M432.2 214.3h1.8M432.2 147.6h1.8M432.2 135.1h1.8M434.1 220.5h1.8M434.1 166.3h1.8M434.1 153.8h1.8M434.1 149.7h1.8M436.1 218.4h1.8M436.1 151.8h1.8M436.1 147.6h1.8M436.1 139.3h1.8M436.1 135.1h1.8M438.0 212.2h1.8M438.0 141.4h1.8M438.0 124.7h1.8M438.0 112.2h1.8M439.9 210.1h1.8M439.9 164.3h1.8M439.9 151.8h1.8M439.9 126.8h1.8M439.9 122.6h1.8M439.9 114.3h1.8M441.8 191.3h1.8M441.8 137.2h1.8M441.8 133.0h1.8M441.8 128.9h1.8M441.8 124.7h1.8M441.8 103.9h1.8M443.7 218.4h1.8M443.7 193.4h1.8M443.7 176.8h1.8M443.7 168.4h1.8M443.7 155.9h1.8M443.7 151.8h1.8M443.7 147.6h1.8M443.7 143.4h1.8M443.7 130.9h1.8M443.7 122.6h1.8M443.7 118.4h1.8M445.6 199.7h1.8M445.6 166.3h1.8M445.6 145.5h1.8M445.6 141.4h1.8M445.6 137.2h1.8M445.6 120.5h1.8M447.5 201.8h1.8M447.5 193.4h1.8M447.5 151.8h1.8M447.5 139.3h1.8M447.5 126.8h1.8M447.5 122.6h1.8M447.5 118.4h1.8M447.5 114.3h1.8M449.5 199.7h1.8M449.5 191.3h1.8M449.5 174.7h1.8M449.5 141.4h1.8M449.5 137.2h1.8M449.5 133.0h1.8M449.5 124.7h1.8M449.5 116.4h1.8M451.4 214.3h1.8M451.4 210.1h1.8M451.4 205.9h1.8M451.4 201.8h1.8M451.4 197.6h1.8M451.4 193.4h1.8M451.4 189.3h1.8M451.4 176.8h1.8M451.4 164.3h1.8M451.4 160.1h1.8M451.4 151.8h1.8M451.4 143.4h1.8M451.4 126.8h1.8M451.4 118.4h1.8M453.3 212.2h1.8M453.3 187.2h1.8M453.3 178.8h1.8M453.3 170.5h1.8M453.3 166.3h1.8M453.3 145.5h1.8M453.3 133.0h1.8M455.2 210.1h1.8M455.2 205.9h1.8M455.2 197.6h1.8M455.2 193.4h1.8M455.2 189.3h1.8M455.2 180.9h1.8M455.2 168.4h1.8M455.2 155.9h1.8M455.2 143.4h1.8M455.2 135.1h1.8M455.2 130.9h1.8M455.2 126.8h1.8M455.2 122.6h1.8M457.1 208.0h1.8M457.1 203.8h1.8M457.1 187.2h1.8M457.1 178.8h1.8M457.1 158.0h1.8M457.1 141.4h1.8M457.1 137.2h1.8M457.1 124.7h1.8M457.1 120.5h1.8M459.0 214.3h1.8M459.0 189.3h1.8M459.0 176.8h1.8M459.0 168.4h1.8M459.0 160.1h1.8M459.0 155.9h1.8M459.0 151.8h1.8M459.0 143.4h1.8M459.0 130.9h1.8M459.0 122.6h1.8M459.0 110.1h1.8M460.9 199.7h1.8M460.9 195.5h1.8M460.9 191.3h1.8M460.9 187.2h1.8M460.9 183.0h1.8M460.9 174.7h1.8M460.9 158.0h1.8M460.9 153.8h1.8M460.9 149.7h1.8M460.9 145.5h1.8M460.9 133.0h1.8M460.9 128.9h1.8M462.8 201.8h1.8M462.8 193.4h1.8M462.8 176.8h1.8M462.8 172.6h1.8M462.8 147.6h1.8M462.8 143.4h1.8M464.8 195.5h1.8M464.8 191.3h1.8M464.8 183.0h1.8M464.8 178.8h1.8M464.8 158.0h1.8M464.8 149.7h1.8M464.8 145.5h1.8M464.8 137.2h1.8M464.8 124.7h1.8M466.7 197.6h1.8M466.7 180.9h1.8M466.7 172.6h1.8M466.7 168.4h1.8M466.7 164.3h1.8M466.7 160.1h1.8M466.7 147.6h1.8M466.7 135.1h1.8M466.7 126.8h1.8M468.6 195.5h1.8M468.6 174.7h1.8M468.6 162.2h1.8M468.6 141.4h1.8M468.6 137.2h1.8M468.6 133.0h1.8M468.6 120.5h1.8M470.5 193.4h1.8M470.5 185.1h1.8M470.5 180.9h1.8M470.5 176.8h1.8M470.5 172.6h1.8M470.5 160.1h1.8M470.5 143.4h1.8M472.4 191.3h1.8M472.4 187.2h1.8M472.4 183.0h1.8M472.4 178.8h1.8M472.4 170.5h1.8M472.4 162.2h1.8M472.4 137.2h1.8M474.3 176.8h1.8M474.3 168.4h1.8M474.3 160.1h1.8M474.3 151.8h1.8M474.3 147.6h1.8M474.3 139.3h1.8M474.3 135.1h1.8M474.3 122.6h1.8M476.2 195.5h1.8M476.2 191.3h1.8M476.2 187.2h1.8M476.2 183.0h1.8M476.2 174.7h1.8M476.2 166.3h1.8M476.2 158.0h1.8M476.2 153.8h1.8M476.2 149.7h1.8M476.2 145.5h1.8M476.2 141.4h1.8M476.2 133.0h1.8M476.2 124.7h1.8M478.1 185.1h1.8M478.1 172.6h1.8M478.1 168.4h1.8M478.1 160.1h1.8M478.1 155.9h1.8M478.1 151.8h1.8M478.1 147.6h1.8M480.1 183.0h1.8M480.1 174.7h1.8M480.1 162.2h1.8M480.1 153.8h1.8M480.1 137.2h1.8M482.0 201.8h1.8M482.0 180.9h1.8M482.0 176.8h1.8M482.0 172.6h1.8M482.0 168.4h1.8M482.0 147.6h1.8M482.0 143.4h1.8M482.0 139.3h1.8M483.9 187.2h1.8M483.9 183.0h1.8M483.9 178.8h1.8M483.9 170.5h1.8M483.9 162.2h1.8M483.9 141.4h1.8M485.8 193.4h1.8M485.8 185.1h1.8M485.8 180.9h1.8M485.8 155.9h1.8M487.7 162.2h1.8M487.7 153.8h1.8M487.7 149.7h1.8M487.7 145.5h1.8M489.6 185.1h1.8M489.6 180.9h1.8M489.6 151.8h1.8M491.5 158.0h1.8M491.5 153.8h1.8M491.5 149.7h1.8M491.5 145.5h1.8M491.5 141.4h1.8M493.5 172.6h1.8M493.5 151.8h1.8M495.4 183.0h1.8M495.4 178.8h1.8M495.4 174.7h1.8M495.4 145.5h1.8M495.4 137.2h1.8M497.3 176.8h1.8M497.3 164.3h1.8M462.2 63.5h1.8M466.3 67.7h1.8M481.5 63.5h1.8M487.1 65.6h1.8M477.2 71.9h1.8M485.9 70.6h1.8M489.1 73.7h1.8M494.1 73.7h1.8M457.8 75.6h1.8M460.1 77.8h1.8M466.9 84.5h1.8M469.1 86.8h1.8M460.3 94.3h1.8M465.9 96.8h1.8M464.1 99.3h1.8M433.6 98.8h1.8M545.9 104.7h1.8M496.6 104.7h1.8M498.5 109.0h1.8M493.7 109.0h1.8M517.8 115.2h1.8M525.3 115.2h1.8M505.9 119.3h1.8M517.8 136.0h1.8M525.3 136.0h1.8M555.3 131.8h1.8M532.8 144.0h1.8M519.1 146.0h1.8M515.3 150.2h1.8M504.1 150.2h1.8M507.8 154.3h1.8M529.1 160.5h1.8M538.4 158.4h1.8M554.0 158.4h1.8M504.7 158.7h1.8M505.9 160.5h1.8M516.6 162.4h1.8M519.1 163.7h1.8M538.4 174.7h1.8M523.4 183.1h1.8M537.8 183.1h1.8M535.9 185.0h1.8M519.1 170.6h1.8M512.2 170.6h1.8M512.2 174.4h1.8M507.8 183.1h1.8M505.9 166.9h1.8M508.4 166.0h1.8M497.2 180.6h1.8M488.4 109.0h1.8M485.2 133.7h1.8M494.5 127.6h1.8" stroke="#ff0000"/></g><line x1="366.8" y1="267.5" x2="510.65" y2="27.9" stroke="#000" stroke-width="1.25"/><path d="M366.8 267.5v-4.4M366.8 27.9v4.4M398.77 267.5v-4.4M398.77 27.9v4.4M430.73 267.5v-4.4M430.73 27.9v4.4M462.7 267.5v-4.4M462.7 27.9v4.4M494.67 267.5v-4.4M494.67 27.9v4.4M526.63 267.5v-4.4M526.63 27.9v4.4M558.6 267.5v-4.4M558.6 27.9v4.4M366.8 267.5h4.4M558.6 267.5h-4.4M366.8 240.88h4.4M558.6 240.88h-4.4M366.8 214.26h4.4M558.6 214.26h-4.4M366.8 187.63h4.4M558.6 187.63h-4.4M366.8 161.01h4.4M558.6 161.01h-4.4M366.8 134.39h4.4M558.6 134.39h-4.4M366.8 107.77h4.4M558.6 107.77h-4.4M366.8 81.14h4.4M558.6 81.14h-4.4M366.8 54.52h4.4M558.6 54.52h-4.4M366.8 27.9h4.4M558.6 27.9h-4.4" stroke="#000" stroke-width="0.7" fill="none"/><rect x="366.8" y="27.9" width="191.8" height="239.6" fill="none" stroke="#000" stroke-width="1.35"/><g class="tk"><text x="366.8" y="283.6" text-anchor="middle">0</text><text x="398.77" y="283.6" text-anchor="middle">10</text><text x="430.73" y="283.6" text-anchor="middle">20</text><text x="462.7" y="283.6" text-anchor="middle">30</text><text x="494.67" y="283.6" text-anchor="middle">40</text><text x="526.63" y="283.6" text-anchor="middle">50</text><text x="558.6" y="283.6" text-anchor="middle">60</text><text x="362.5" y="271" text-anchor="end">0</text><text x="362.5" y="244.38" text-anchor="end">5</text><text x="362.5" y="217.76" text-anchor="end">10</text><text x="362.5" y="191.13" text-anchor="end">15</text><text x="362.5" y="164.51" text-anchor="end">20</text><text x="362.5" y="137.89" text-anchor="end">25</text><text x="362.5" y="111.27" text-anchor="end">30</text><text x="362.5" y="84.64" text-anchor="end">35</text><text x="362.5" y="58.02" text-anchor="end">40</text><text x="362.5" y="31.4" text-anchor="end">45</text></g><text class="lb" x="462.05" y="303.7" text-anchor="middle" textLength="104" lengthAdjust="spacingAndGlyphs">Degree of node</text><text class="lb" transform="translate(336 147.7) rotate(-90)" x="0" y="0" text-anchor="middle" textLength="176.5" lengthAdjust="spacingAndGlyphs">Mean degree of neighbors</text><linearGradient id="gBtop" x1="0" y1="0" x2="0" y2="1"><stop offset="0.0000" stop-color="#ff0000"/><stop offset="0.1250" stop-color="#ff1f00"/><stop offset="0.2500" stop-color="#ff3f00"/><stop offset="0.3750" stop-color="#ff5f00"/><stop offset="0.5000" stop-color="#ff7f00"/><stop offset="0.6250" stop-color="#ff9f00"/><stop offset="0.7500" stop-color="#ffbf00"/><stop offset="0.8750" stop-color="#ffdf00"/><stop offset="1.0000" stop-color="#ffff00"/></linearGradient><rect x="570.5" y="27.9" width="12.5" height="239.6" fill="url(#gBtop)" stroke="#000" stroke-width="1.3"/><path d="M583 243.54h-4.4M583 219.58h-4.4M583 195.62h-4.4M583 171.66h-4.4M583 147.7h-4.4M583 123.74h-4.4M583 99.78h-4.4M583 75.82h-4.4M583 51.86h-4.4" stroke="#000" stroke-width="0.7"/><g class="tk"><text x="586" y="270.9">0</text><text x="586" y="246.94">10</text><text x="586" y="222.98">20</text><text x="586" y="199.02">30</text><text x="586" y="175.06">40</text><text x="586" y="151.1">50</text><text x="586" y="127.14">60</text><text x="586" y="103.18">70</text><text x="586" y="79.22">80</text><text x="586" y="55.26">90</text><text x="586" y="31.3">100</text></g><text class="lb" transform="translate(627.8 147.7) rotate(-90)" text-anchor="middle" textLength="178.5" lengthAdjust="spacingAndGlyphs">mean percentage infected</text><clipPath id="clp2"><rect x="49" y="355" width="192" height="239.5"/></clipPath><g clip-path="url(#clp2)" stroke-width="3.24" stroke-linecap="round" fill="none"><path d="M51.3 585.0h1.8M62.8 576.7h1.8" stroke="#fffa00"/><path d="M51.3 572.5h1.8M51.3 472.6h1.8M53.2 466.3h1.8" stroke="#ffda00"/><path d="M51.3 568.4h1.8M53.2 474.7h1.8M57.0 437.2h1.8M68.5 574.6h1.8M70.5 576.7h1.8M72.4 578.8h1.8M74.3 576.7h1.8" stroke="#ffff00"/><path d="M51.3 555.9h1.8M51.3 493.4h1.8M53.2 458.0h1.8M55.1 564.2h1.8M55.1 464.2h1.8M57.0 574.6h1.8M59.0 580.8h1.8M59.0 576.7h1.8M59.0 572.5h1.8M55.2 405.2h1.8" stroke="#ffca00"/><path d="M51.3 551.7h1.8M51.3 514.2h1.8M51.3 439.3h1.8M53.2 570.4h1.8M55.1 572.5h1.8M55.1 568.4h1.8M57.0 582.9h1.8M64.7 453.8h1.8" stroke="#ffcf00"/><path d="M51.3 547.5h1.8M78.1 576.7h1.8" stroke="#ffea00"/><path d="M51.3 535.0h1.8M51.3 435.1h1.8M53.2 562.1h1.8M55.1 560.0h1.8M53.3 423.6h1.8" stroke="#ffc500"/><path d="M51.3 530.9h1.8M51.3 510.0h1.8M53.2 533.0h1.8M53.2 524.6h1.8M53.2 520.5h1.8M53.2 512.1h1.8M55.1 539.2h1.8M55.1 535.0h1.8M55.1 505.9h1.8M55.1 501.7h1.8M57.0 553.8h1.8M57.0 483.0h1.8M59.0 551.7h1.8M60.9 566.3h1.8M60.9 562.1h1.8M66.6 568.4h1.8M72.4 470.5h1.8M80.0 566.3h1.8" stroke="#ffaf00"/><path d="M51.3 497.6h1.8M51.3 455.9h1.8M53.2 587.1h1.8M53.2 578.8h1.8M55.1 580.8h1.8" stroke="#ffdf00"/><path d="M51.3 489.2h1.8M53.2 503.8h1.8M53.2 487.1h1.8M53.2 483.0h1.8M57.0 537.1h1.8M59.0 535.0h1.8M59.0 526.7h1.8M59.0 489.2h1.8M60.9 549.6h1.8M64.7 557.9h1.8M70.5 476.7h1.8M72.4 570.4h1.8M72.4 566.3h1.8M91.5 453.8h1.8" stroke="#ff9f00"/><path d="M51.3 476.7h1.8M53.2 553.8h1.8M53.2 549.6h1.8M53.2 541.3h1.8M55.1 485.1h1.8M60.9 570.4h1.8M62.8 572.5h1.8M62.8 485.1h1.8M72.4 582.9h1.8M57.0 390.6h1.8" stroke="#ffba00"/><path d="M53.2 557.9h1.8M55.1 551.7h1.8M57.0 570.4h1.8M57.0 566.3h1.8M59.0 568.4h1.8M60.9 574.6h1.8M68.5 570.4h1.8" stroke="#ffbf00"/><path d="M53.2 528.8h1.8M53.2 495.5h1.8M55.1 547.5h1.8M55.1 543.4h1.8M55.1 530.9h1.8M57.0 562.1h1.8M57.0 557.9h1.8M59.0 564.2h1.8M59.0 560.0h1.8M59.0 555.9h1.8M59.0 497.6h1.8M62.8 568.4h1.8M66.6 572.5h1.8M70.5 460.1h1.8M70.5 451.7h1.8" stroke="#ffb500"/><path d="M53.2 491.3h1.8M57.0 512.1h1.8M57.0 503.8h1.8M59.0 510.0h1.8M59.0 501.7h1.8M60.9 545.4h1.8M60.9 541.3h1.8M60.9 445.5h1.8M62.8 555.9h1.8M62.8 489.2h1.8M62.8 480.9h1.8M62.8 468.4h1.8M66.6 560.0h1.8M68.5 557.9h1.8M70.5 564.2h1.8M76.2 566.3h1.8M83.9 453.8h1.8M97.3 555.9h1.8M141.3 541.3h1.8M51.5 359.9h1.8" stroke="#ff9a00"/><path d="M53.2 445.5h1.8M55.1 522.5h1.8M55.1 518.4h1.8M55.1 514.2h1.8M57.0 549.6h1.8M57.0 545.4h1.8M57.0 516.3h1.8M59.0 547.5h1.8M62.8 430.9h1.8M64.7 570.4h1.8M68.5 566.3h1.8M70.5 568.4h1.8" stroke="#ffaa00"/><path d="M53.2 433.0h1.8M55.1 455.9h1.8M60.9 491.3h1.8M64.7 495.5h1.8M64.7 491.3h1.8M64.7 487.1h1.8M66.6 505.9h1.8M66.6 485.1h1.8M66.6 443.4h1.8M70.5 518.4h1.8M70.5 510.0h1.8M70.5 485.1h1.8M72.4 528.8h1.8M72.4 499.6h1.8M72.4 491.3h1.8M74.3 526.7h1.8M74.3 522.5h1.8M74.3 480.9h1.8M76.2 537.1h1.8M76.2 458.0h1.8M78.1 568.4h1.8M78.1 530.9h1.8M78.1 485.1h1.8M78.1 476.7h1.8M80.0 562.1h1.8M80.0 545.4h1.8M80.0 541.3h1.8M81.9 560.0h1.8M81.9 555.9h1.8M81.9 551.7h1.8M81.9 497.6h1.8M85.8 551.7h1.8M87.7 541.3h1.8M89.6 551.7h1.8M89.6 447.6h1.8M91.5 545.4h1.8M101.1 439.3h1.8M53.3 395.2h1.8" stroke="#ff6500"/><path d="M53.2 428.8h1.8M55.1 510.0h1.8M55.1 447.6h1.8M57.0 541.3h1.8M57.0 533.0h1.8M57.0 524.6h1.8M59.0 543.4h1.8M59.0 539.2h1.8M59.0 530.9h1.8M59.0 522.5h1.8M59.0 514.2h1.8M60.9 557.9h1.8M60.9 553.8h1.8M62.8 564.2h1.8M62.8 560.0h1.8M64.7 566.3h1.8M64.7 562.1h1.8M66.6 564.2h1.8" stroke="#ffa500"/><path d="M55.1 585.0h1.8M60.9 578.8h1.8" stroke="#ffe500"/><path d="M55.1 576.7h1.8M57.0 578.8h1.8M57.0 458.0h1.8" stroke="#ffd500"/><path d="M55.1 497.6h1.8M55.1 480.9h1.8M57.0 528.8h1.8M57.0 499.6h1.8M57.0 491.3h1.8M59.0 518.4h1.8M60.9 528.8h1.8M60.9 516.3h1.8M60.9 512.1h1.8M60.9 433.0h1.8M62.8 551.7h1.8M62.8 547.5h1.8M64.7 553.8h1.8M64.7 549.6h1.8M68.5 562.1h1.8M70.5 555.9h1.8M72.4 562.1h1.8M74.3 572.5h1.8M74.3 568.4h1.8M78.1 560.0h1.8M80.0 557.9h1.8M83.9 441.3h1.8" stroke="#ff9500"/><path d="M55.1 493.4h1.8M57.0 508.0h1.8M60.9 520.5h1.8M60.9 508.0h1.8M60.9 495.5h1.8M60.9 483.0h1.8M62.8 539.2h1.8M62.8 530.9h1.8M62.8 493.4h1.8M64.7 545.4h1.8M64.7 537.1h1.8M64.7 470.5h1.8M66.6 551.7h1.8M66.6 543.4h1.8M66.6 476.7h1.8M70.5 572.5h1.8M72.4 557.9h1.8M74.3 560.0h1.8M80.0 553.8h1.8M95.3 462.2h1.8" stroke="#ff8a00"/><path d="M55.1 468.4h1.8" stroke="#fff500"/><path d="M55.1 451.7h1.8M57.0 520.5h1.8M60.9 537.1h1.8M60.9 533.0h1.8M60.9 524.6h1.8M62.8 543.4h1.8M62.8 535.0h1.8M64.7 503.8h1.8M64.7 483.0h1.8M66.6 555.9h1.8M68.5 553.8h1.8M70.5 560.0h1.8M76.2 562.1h1.8M76.2 557.9h1.8M89.6 564.2h1.8M97.3 551.7h1.8" stroke="#ff8f00"/><path d="M55.1 443.4h1.8M57.0 495.5h1.8M59.0 505.9h1.8M60.9 503.8h1.8M60.9 449.7h1.8M62.8 526.7h1.8M62.8 510.0h1.8M64.7 541.3h1.8M64.7 524.6h1.8M64.7 520.5h1.8M66.6 547.5h1.8M68.5 549.6h1.8M68.5 545.4h1.8M74.3 564.2h1.8M74.3 455.9h1.8M80.0 462.2h1.8M87.7 553.8h1.8M87.7 470.5h1.8M93.4 555.9h1.8M57.7 395.2h1.8" stroke="#ff8500"/><path d="M57.0 474.7h1.8M60.9 478.8h1.8M64.7 499.6h1.8M66.6 518.4h1.8M66.6 510.0h1.8M68.5 516.3h1.8M68.5 512.1h1.8M68.5 508.0h1.8M68.5 495.5h1.8M70.5 526.7h1.8M70.5 522.5h1.8M70.5 501.7h1.8M72.4 533.0h1.8M72.4 524.6h1.8M72.4 520.5h1.8M74.3 535.0h1.8M74.3 530.9h1.8M76.2 545.4h1.8M76.2 528.8h1.8M76.2 437.2h1.8M80.0 549.6h1.8M81.9 547.5h1.8M83.9 549.6h1.8M89.6 547.5h1.8M101.1 547.5h1.8M66.8 421.5h1.8" stroke="#ff6a00"/><path d="M57.0 449.7h1.8M68.5 483.0h1.8M70.5 505.9h1.8M72.4 512.1h1.8M72.4 503.8h1.8M72.4 483.0h1.8M74.3 518.4h1.8M74.3 505.9h1.8M74.3 497.6h1.8M74.3 485.1h1.8M76.2 516.3h1.8M76.2 495.5h1.8M76.2 487.1h1.8M76.2 483.0h1.8M76.2 474.7h1.8M78.1 522.5h1.8M78.1 514.2h1.8M80.0 537.1h1.8M80.0 533.0h1.8M80.0 478.8h1.8M81.9 539.2h1.8M81.9 535.0h1.8M83.9 449.7h1.8M85.8 547.5h1.8M87.7 545.4h1.8M93.4 464.2h1.8M97.3 480.9h1.8M99.2 428.8h1.8M106.8 557.9h1.8M110.7 549.6h1.8M112.6 455.9h1.8" stroke="#ff5f00"/><path d="M59.0 493.4h1.8M59.0 451.7h1.8M60.9 499.6h1.8M62.8 505.9h1.8M64.7 516.3h1.8M64.7 512.1h1.8M66.6 535.0h1.8M66.6 530.9h1.8M66.6 501.7h1.8M68.5 520.5h1.8M70.5 547.5h1.8M70.5 543.4h1.8M70.5 468.4h1.8M72.4 545.4h1.8M76.2 553.8h1.8M78.1 564.2h1.8M78.1 555.9h1.8M78.1 551.7h1.8M85.8 560.0h1.8" stroke="#ff7a00"/><path d="M59.0 485.1h1.8M64.7 437.2h1.8M76.2 570.4h1.8M76.2 453.8h1.8M80.0 458.0h1.8M83.9 562.1h1.8M85.8 485.1h1.8M85.8 460.1h1.8M89.6 468.4h1.8M89.6 455.9h1.8M91.5 483.0h1.8M91.5 478.8h1.8M91.5 449.7h1.8M93.4 468.4h1.8M93.4 435.1h1.8M95.3 478.8h1.8M97.3 497.6h1.8M97.3 485.1h1.8M99.2 495.5h1.8M99.2 491.3h1.8M99.2 487.1h1.8M99.2 470.5h1.8M103.0 503.8h1.8M103.0 495.5h1.8M103.0 491.3h1.8M103.0 466.3h1.8M103.0 453.8h1.8M104.9 514.2h1.8M104.9 510.0h1.8M106.8 512.1h1.8M106.8 478.8h1.8M108.8 510.0h1.8M108.8 497.6h1.8M110.7 541.3h1.8M110.7 503.8h1.8M110.7 499.6h1.8M110.7 483.0h1.8M110.7 466.3h1.8M112.6 514.2h1.8M112.6 489.2h1.8M114.5 537.1h1.8M114.5 528.8h1.8M114.5 520.5h1.8M114.5 508.0h1.8M114.5 491.3h1.8M114.5 462.2h1.8M116.4 526.7h1.8M116.4 522.5h1.8M116.4 505.9h1.8M116.4 501.7h1.8M116.4 485.1h1.8M118.3 520.5h1.8M118.3 495.5h1.8M120.2 526.7h1.8M120.2 522.5h1.8M120.2 497.6h1.8M120.2 489.2h1.8M120.2 480.9h1.8M120.2 439.3h1.8M122.2 533.0h1.8M122.2 520.5h1.8M122.2 516.3h1.8M122.2 503.8h1.8M126.0 512.1h1.8M126.0 483.0h1.8M127.9 518.4h1.8M131.7 518.4h1.8M131.7 480.9h1.8M133.7 453.8h1.8M137.5 516.3h1.8M137.5 466.3h1.8M137.5 449.7h1.8M139.4 522.5h1.8M143.2 518.4h1.8M143.2 485.1h1.8M149.0 524.6h1.8M149.0 462.2h1.8M154.7 472.6h1.8M156.6 516.3h1.8M158.6 518.4h1.8M160.5 512.1h1.8M173.9 472.6h1.8M237.7 458.8h1.8M220.8 485.4h1.8" stroke="#ff2a00"/><path d="M59.0 480.9h1.8M70.5 480.9h1.8M78.1 480.9h1.8M81.9 455.9h1.8M87.7 478.8h1.8M95.3 483.0h1.8M99.2 553.8h1.8M99.2 478.8h1.8M101.1 472.6h1.8M101.1 468.4h1.8M103.0 487.1h1.8M103.0 474.7h1.8M106.8 487.1h1.8M108.8 485.1h1.8M108.8 476.7h1.8M110.7 495.5h1.8M110.7 491.3h1.8M110.7 470.5h1.8M112.6 497.6h1.8M116.4 547.5h1.8M116.4 489.2h1.8M116.4 472.6h1.8M118.3 528.8h1.8M118.3 478.8h1.8M118.3 474.7h1.8M120.2 455.9h1.8M122.2 524.6h1.8M122.2 512.1h1.8M122.2 499.6h1.8M122.2 495.5h1.8M122.2 491.3h1.8M122.2 487.1h1.8M124.1 522.5h1.8M124.1 514.2h1.8M124.1 510.0h1.8M124.1 505.9h1.8M124.1 501.7h1.8M124.1 493.4h1.8M124.1 480.9h1.8M126.0 516.3h1.8M126.0 503.8h1.8M126.0 491.3h1.8M126.0 474.7h1.8M127.9 526.7h1.8M127.9 510.0h1.8M127.9 505.9h1.8M127.9 501.7h1.8M127.9 497.6h1.8M127.9 485.1h1.8M127.9 480.9h1.8M127.9 468.4h1.8M129.8 512.1h1.8M129.8 508.0h1.8M129.8 503.8h1.8M129.8 491.3h1.8M129.8 474.7h1.8M129.8 458.0h1.8M131.7 501.7h1.8M131.7 460.1h1.8M133.7 541.3h1.8M133.7 499.6h1.8M133.7 487.1h1.8M135.6 518.4h1.8M135.6 510.0h1.8M137.5 495.5h1.8M139.4 510.0h1.8M139.4 505.9h1.8M139.4 497.6h1.8M139.4 480.9h1.8M139.4 455.9h1.8M141.3 524.6h1.8M141.3 520.5h1.8M141.3 499.6h1.8M141.3 449.7h1.8M143.2 514.2h1.8M143.2 493.4h1.8M145.1 508.0h1.8M147.1 505.9h1.8M149.0 491.3h1.8M149.0 466.3h1.8M150.9 526.7h1.8M150.9 505.9h1.8M150.9 447.6h1.8M152.8 495.5h1.8M152.8 478.8h1.8M154.7 518.4h1.8M154.7 489.2h1.8M156.6 524.6h1.8M156.6 520.5h1.8M156.6 508.0h1.8M158.6 510.0h1.8M158.6 505.9h1.8M158.6 472.6h1.8M160.5 483.0h1.8M164.3 495.5h1.8M164.3 474.7h1.8M168.1 520.5h1.8M172.0 483.0h1.8M173.9 455.9h1.8M177.7 505.9h1.8M149.2 411.6h1.8" stroke="#ff1f00"/><path d="M59.0 476.7h1.8M60.9 487.1h1.8M62.8 522.5h1.8M62.8 518.4h1.8M64.7 533.0h1.8M64.7 528.8h1.8M66.6 539.2h1.8M66.6 497.6h1.8M66.6 480.9h1.8M68.5 541.3h1.8M68.5 537.1h1.8M70.5 551.7h1.8M72.4 553.8h1.8M72.4 549.6h1.8M74.3 555.9h1.8M74.3 551.7h1.8M81.9 564.2h1.8M83.9 566.3h1.8M106.8 462.2h1.8M108.8 547.5h1.8M114.5 545.4h1.8M68.3 427.7h1.8" stroke="#ff7f00"/><path d="M59.0 447.6h1.8M87.7 458.0h1.8M95.3 453.8h1.8M95.3 437.2h1.8M95.3 433.0h1.8M104.9 476.7h1.8M114.5 466.3h1.8M116.4 468.4h1.8M118.3 466.3h1.8M120.2 472.6h1.8M122.2 449.7h1.8M124.1 464.2h1.8M126.0 537.1h1.8M127.9 476.7h1.8M127.9 472.6h1.8M127.9 460.1h1.8M127.9 451.7h1.8M135.6 489.2h1.8M135.6 464.2h1.8M137.5 533.0h1.8M137.5 483.0h1.8M137.5 478.8h1.8M137.5 470.5h1.8M139.4 447.6h1.8M141.3 478.8h1.8M141.3 474.7h1.8M141.3 445.5h1.8M143.2 480.9h1.8M145.1 487.1h1.8M147.1 526.7h1.8M147.1 485.1h1.8M147.1 476.7h1.8M149.0 483.0h1.8M150.9 493.4h1.8M150.9 489.2h1.8M150.9 476.7h1.8M150.9 472.6h1.8M152.8 512.1h1.8M152.8 487.1h1.8M152.8 470.5h1.8M152.8 458.0h1.8M154.7 464.2h1.8M156.6 487.1h1.8M158.6 522.5h1.8M160.5 499.6h1.8M164.3 503.8h1.8M173.8 392.7h1.8M171.4 400.8h1.8M176.4 400.8h1.8M144.7 407.1h1.8M147.0 409.4h1.8M173.2 425.5h1.8M200.1 442.3h1.8M207.6 442.3h1.8M195.1 463.0h1.8M220.2 510.1h1.8M194.5 501.4h1.8" stroke="#ff0f00"/><path d="M60.9 474.7h1.8M62.8 514.2h1.8M62.8 501.7h1.8M62.8 497.6h1.8M64.7 508.0h1.8M66.6 526.7h1.8M66.6 522.5h1.8M66.6 514.2h1.8M68.5 533.0h1.8M68.5 528.8h1.8M68.5 503.8h1.8M68.5 487.1h1.8M70.5 539.2h1.8M70.5 535.0h1.8M72.4 574.6h1.8M72.4 541.3h1.8M74.3 547.5h1.8M76.2 549.6h1.8M76.2 470.5h1.8M76.2 466.3h1.8M78.1 547.5h1.8M99.2 453.8h1.8M104.9 551.7h1.8M57.0 419.3h1.8M60.8 423.6h1.8" stroke="#ff7500"/><path d="M60.9 470.5h1.8M74.3 468.4h1.8M78.1 505.9h1.8M78.1 497.6h1.8M80.0 483.0h1.8M81.9 510.0h1.8M81.9 505.9h1.8M81.9 476.7h1.8M83.9 503.8h1.8M83.9 445.5h1.8M85.8 510.0h1.8M85.8 489.2h1.8M87.7 562.1h1.8M87.7 520.5h1.8M87.7 516.3h1.8M87.7 508.0h1.8M87.7 503.8h1.8M87.7 428.8h1.8M89.6 555.9h1.8M89.6 518.4h1.8M89.6 514.2h1.8M91.5 553.8h1.8M91.5 524.6h1.8M91.5 516.3h1.8M91.5 495.5h1.8M93.4 530.9h1.8M93.4 526.7h1.8M93.4 518.4h1.8M95.3 537.1h1.8M97.3 535.0h1.8M97.3 526.7h1.8M97.3 476.7h1.8M99.2 520.5h1.8M101.1 551.7h1.8M101.1 539.2h1.8M101.1 535.0h1.8M101.1 526.7h1.8M101.1 480.9h1.8M101.1 476.7h1.8M103.0 549.6h1.8M110.7 545.4h1.8M112.6 539.2h1.8M116.4 535.0h1.8M118.3 537.1h1.8M164.3 466.3h1.8" stroke="#ff4500"/><path d="M60.9 462.2h1.8M66.6 489.2h1.8M66.6 472.6h1.8M68.5 499.6h1.8M70.5 497.6h1.8M70.5 489.2h1.8M72.4 516.3h1.8M72.4 508.0h1.8M74.3 510.0h1.8M74.3 489.2h1.8M76.2 520.5h1.8M76.2 508.0h1.8M78.1 535.0h1.8M78.1 518.4h1.8M80.0 528.8h1.8M80.0 524.6h1.8M80.0 516.3h1.8M80.0 474.7h1.8M81.9 543.4h1.8M81.9 526.7h1.8M83.9 545.4h1.8M83.9 537.1h1.8M83.9 533.0h1.8M85.8 543.4h1.8M85.8 539.2h1.8M91.5 549.6h1.8M91.5 466.3h1.8M93.4 551.7h1.8M112.6 551.7h1.8M124.1 535.0h1.8M145.1 466.3h1.8M168.1 512.1h1.8M63.0 392.7h1.8" stroke="#ff5a00"/><path d="M60.9 458.0h1.8M62.8 472.6h1.8M64.7 458.0h1.8M72.4 466.3h1.8M80.0 495.5h1.8M81.9 451.7h1.8M85.8 476.7h1.8M87.7 495.5h1.8M87.7 487.1h1.8M89.6 510.0h1.8M89.6 501.7h1.8M89.6 489.2h1.8M91.5 520.5h1.8M91.5 491.3h1.8M91.5 487.1h1.8M93.4 522.5h1.8M93.4 514.2h1.8M93.4 505.9h1.8M95.3 553.8h1.8M95.3 524.6h1.8M95.3 516.3h1.8M95.3 491.3h1.8M95.3 470.5h1.8M97.3 530.9h1.8M97.3 522.5h1.8M99.2 541.3h1.8M99.2 508.0h1.8M99.2 474.7h1.8M101.1 530.9h1.8M101.1 489.2h1.8M104.9 543.4h1.8M104.9 535.0h1.8M106.8 549.6h1.8M106.8 533.0h1.8M108.8 555.9h1.8M110.7 537.1h1.8M112.6 535.0h1.8M112.6 485.1h1.8M114.5 541.3h1.8M114.5 470.5h1.8M124.1 455.9h1.8M73.3 427.7h1.8M81.8 425.6h1.8" stroke="#ff3f00"/><path d="M60.9 441.3h1.8M81.9 468.4h1.8M103.0 470.5h1.8M110.7 453.8h1.8M124.1 460.1h1.8M127.9 447.6h1.8M127.9 439.3h1.8M129.8 453.8h1.8M129.8 441.3h1.8M135.6 530.9h1.8M141.3 470.5h1.8M143.2 522.5h1.8M143.2 443.4h1.8M150.9 468.4h1.8M152.8 499.6h1.8M158.6 460.1h1.8M160.5 503.8h1.8M160.5 491.3h1.8M160.5 478.8h1.8M164.3 483.0h1.8M166.2 505.9h1.8M166.2 497.6h1.8M170.0 497.6h1.8M172.0 508.0h1.8M173.9 485.1h1.8M176.0 436.1h1.8M195.1 442.3h1.8M188.2 446.3h1.8M186.4 477.2h1.8" stroke="#ff0500"/><path d="M62.8 476.7h1.8M64.7 445.5h1.8M68.5 491.3h1.8M72.4 445.5h1.8M76.2 503.8h1.8M78.1 493.4h1.8M78.1 451.7h1.8M80.0 503.8h1.8M80.0 470.5h1.8M83.9 508.0h1.8M83.9 495.5h1.8M83.9 474.7h1.8M83.9 470.5h1.8M85.8 526.7h1.8M85.8 518.4h1.8M85.8 514.2h1.8M85.8 455.9h1.8M87.7 557.9h1.8M89.6 560.0h1.8M89.6 535.0h1.8M89.6 530.9h1.8M89.6 526.7h1.8M89.6 522.5h1.8M89.6 493.4h1.8M89.6 476.7h1.8M91.5 562.1h1.8M91.5 528.8h1.8M91.5 458.0h1.8M93.4 547.5h1.8M93.4 543.4h1.8M93.4 535.0h1.8M95.3 541.3h1.8M97.3 543.4h1.8M97.3 539.2h1.8M99.2 545.4h1.8M99.2 537.1h1.8M99.2 533.0h1.8M101.1 543.4h1.8M103.0 537.1h1.8M106.8 541.3h1.8M116.4 543.4h1.8M124.1 543.4h1.8M137.5 537.1h1.8" stroke="#ff4a00"/><path d="M62.8 447.6h1.8M68.5 524.6h1.8M70.5 530.9h1.8M70.5 514.2h1.8M72.4 537.1h1.8M74.3 543.4h1.8M74.3 539.2h1.8M76.2 541.3h1.8M76.2 533.0h1.8M76.2 449.7h1.8M78.1 543.4h1.8M78.1 539.2h1.8M81.9 472.6h1.8M83.9 557.9h1.8M83.9 553.8h1.8M89.6 464.2h1.8M91.5 557.9h1.8M58.9 425.6h1.8" stroke="#ff6f00"/><path d="M64.7 478.8h1.8M72.4 449.7h1.8M85.8 464.2h1.8M87.7 466.3h1.8M87.7 462.2h1.8M87.7 453.8h1.8M89.6 439.3h1.8M93.4 455.9h1.8M93.4 443.4h1.8M95.3 445.5h1.8M97.3 464.2h1.8M97.3 455.9h1.8M97.3 439.3h1.8M103.0 483.0h1.8M103.0 458.0h1.8M104.9 468.4h1.8M110.7 449.7h1.8M122.2 437.2h1.8M124.1 451.7h1.8M126.0 470.5h1.8M129.8 537.1h1.8M129.8 449.7h1.8M129.8 445.5h1.8M131.7 451.7h1.8M131.7 443.4h1.8M135.6 468.4h1.8M135.6 439.3h1.8M137.5 453.8h1.8M139.4 535.0h1.8M139.4 451.7h1.8M141.3 533.0h1.8M141.3 528.8h1.8M141.3 466.3h1.8M141.3 437.2h1.8M145.1 470.5h1.8M147.1 522.5h1.8M149.0 478.8h1.8M149.0 474.7h1.8M149.0 458.0h1.8M150.9 522.5h1.8M154.7 476.7h1.8M156.6 466.3h1.8M158.6 468.4h1.8M158.6 455.9h1.8M158.6 451.7h1.8M160.5 474.7h1.8M162.4 510.0h1.8M164.3 499.6h1.8M164.3 491.3h1.8M164.3 470.5h1.8M166.2 510.0h1.8M166.2 468.4h1.8M166.2 451.7h1.8M168.1 503.8h1.8M168.1 491.3h1.8M168.1 487.1h1.8M168.1 478.8h1.8M168.1 466.3h1.8M168.1 453.8h1.8M170.0 480.9h1.8M170.0 472.6h1.8M172.0 516.3h1.8M172.0 487.1h1.8M172.0 478.8h1.8M173.9 480.9h1.8M175.8 487.1h1.8M175.8 483.0h1.8M175.8 478.8h1.8M177.7 510.0h1.8M177.7 464.2h1.8M68.3 407.1h1.8M81.8 405.2h1.8M163.8 390.6h1.8M169.4 392.7h1.8M166.4 400.8h1.8M142.4 404.9h1.8M151.4 413.9h1.8M146.4 426.4h1.8M115.9 425.9h1.8M228.3 427.7h1.8M228.3 431.8h1.8M178.9 431.8h1.8M180.8 436.1h1.8M186.4 440.2h1.8M211.5 446.3h1.8M200.1 463.0h1.8M207.6 463.0h1.8M215.2 471.0h1.8M201.4 473.0h1.8M197.6 477.2h1.8M191.4 479.4h1.8M205.1 485.4h1.8M187.0 485.7h1.8M188.2 487.5h1.8M198.9 489.4h1.8M201.4 490.7h1.8M220.8 501.7h1.8M205.7 510.1h1.8M218.3 512.0h1.8M238.3 505.7h1.8M186.4 501.7h1.8M190.1 510.1h1.8M188.2 493.9h1.8M190.7 493.0h1.8M179.5 507.6h1.8M165.6 436.1h1.8M175.0 440.2h1.8M176.8 454.6h1.8" stroke="#ff0000"/><path d="M64.7 474.7h1.8M78.1 489.2h1.8M80.0 491.3h1.8M83.9 491.3h1.8M83.9 487.1h1.8M83.9 483.0h1.8M83.9 478.8h1.8M85.8 505.9h1.8M85.8 501.7h1.8M87.7 499.6h1.8M91.5 512.1h1.8M91.5 499.6h1.8M93.4 510.0h1.8M93.4 489.2h1.8M93.4 485.1h1.8M93.4 472.6h1.8M95.3 545.4h1.8M95.3 520.5h1.8M95.3 508.0h1.8M95.3 503.8h1.8M97.3 518.4h1.8M97.3 505.9h1.8M97.3 501.7h1.8M97.3 489.2h1.8M99.2 528.8h1.8M99.2 524.6h1.8M99.2 512.1h1.8M99.2 483.0h1.8M101.1 522.5h1.8M101.1 518.4h1.8M101.1 514.2h1.8M101.1 497.6h1.8M101.1 464.2h1.8M103.0 533.0h1.8M103.0 524.6h1.8M103.0 508.0h1.8M106.8 545.4h1.8M106.8 537.1h1.8M106.8 528.8h1.8M106.8 495.5h1.8M108.8 489.2h1.8M108.8 472.6h1.8M108.8 468.4h1.8M108.8 451.7h1.8M118.3 462.2h1.8M120.2 451.7h1.8M135.6 547.5h1.8M139.4 530.9h1.8M168.1 483.0h1.8" stroke="#ff3a00"/><path d="M66.6 493.4h1.8M70.5 493.4h1.8M72.4 487.1h1.8M72.4 462.2h1.8M74.3 514.2h1.8M76.2 524.6h1.8M76.2 512.1h1.8M76.2 499.6h1.8M76.2 491.3h1.8M76.2 478.8h1.8M78.1 526.7h1.8M80.0 508.0h1.8M80.0 487.1h1.8M81.9 530.9h1.8M81.9 522.5h1.8M81.9 514.2h1.8M83.9 541.3h1.8M83.9 528.8h1.8M83.9 516.3h1.8M85.8 555.9h1.8M85.8 535.0h1.8M85.8 530.9h1.8M85.8 497.6h1.8M85.8 472.6h1.8M87.7 549.6h1.8M87.7 537.1h1.8M87.7 533.0h1.8M87.7 528.8h1.8M87.7 512.1h1.8M89.6 539.2h1.8M91.5 541.3h1.8M99.2 549.6h1.8M103.0 478.8h1.8" stroke="#ff5500"/><path d="M66.6 447.6h1.8M72.4 453.8h1.8M74.3 476.7h1.8M74.3 439.3h1.8M76.2 462.2h1.8M81.9 480.9h1.8M81.9 464.2h1.8M81.9 460.1h1.8M85.8 468.4h1.8M91.5 441.3h1.8M95.3 499.6h1.8M97.3 493.4h1.8M97.3 472.6h1.8M99.2 441.3h1.8M101.1 460.1h1.8M103.0 545.4h1.8M103.0 499.6h1.8M104.9 539.2h1.8M104.9 497.6h1.8M106.8 516.3h1.8M106.8 474.7h1.8M108.8 543.4h1.8M108.8 539.2h1.8M108.8 535.0h1.8M108.8 514.2h1.8M108.8 505.9h1.8M108.8 501.7h1.8M108.8 480.9h1.8M108.8 464.2h1.8M110.7 516.3h1.8M110.7 508.0h1.8M110.7 474.7h1.8M110.7 462.2h1.8M112.6 530.9h1.8M112.6 526.7h1.8M112.6 522.5h1.8M112.6 510.0h1.8M112.6 505.9h1.8M112.6 501.7h1.8M112.6 493.4h1.8M112.6 472.6h1.8M114.5 524.6h1.8M114.5 516.3h1.8M114.5 495.5h1.8M116.4 518.4h1.8M118.3 524.6h1.8M118.3 516.3h1.8M118.3 503.8h1.8M118.3 470.5h1.8M120.2 476.7h1.8M120.2 464.2h1.8M122.2 466.3h1.8M124.1 485.1h1.8M126.0 445.5h1.8M129.8 528.8h1.8M131.7 530.9h1.8M131.7 526.7h1.8M131.7 522.5h1.8M131.7 464.2h1.8M143.2 526.7h1.8M147.1 514.2h1.8M147.1 464.2h1.8M150.9 460.1h1.8M158.6 480.9h1.8M160.5 487.1h1.8M211.5 487.5h1.8M167.5 460.7h1.8" stroke="#ff2f00"/><path d="M66.6 439.3h1.8M85.8 480.9h1.8M87.7 483.0h1.8M87.7 474.7h1.8M89.6 472.6h1.8M91.5 474.7h1.8M91.5 470.5h1.8M95.3 495.5h1.8M97.3 468.4h1.8M101.1 451.7h1.8M104.9 547.5h1.8M104.9 489.2h1.8M104.9 485.1h1.8M104.9 455.9h1.8M104.9 447.6h1.8M118.3 453.8h1.8M122.2 528.8h1.8M122.2 441.3h1.8M124.1 476.7h1.8M124.1 472.6h1.8M124.1 430.9h1.8M126.0 508.0h1.8M126.0 487.1h1.8M126.0 478.8h1.8M126.0 449.7h1.8M127.9 535.0h1.8M127.9 493.4h1.8M127.9 489.2h1.8M127.9 464.2h1.8M129.8 533.0h1.8M129.8 520.5h1.8M129.8 516.3h1.8M129.8 499.6h1.8M129.8 495.5h1.8M129.8 487.1h1.8M131.7 505.9h1.8M131.7 493.4h1.8M131.7 476.7h1.8M133.7 524.6h1.8M133.7 516.3h1.8M133.7 512.1h1.8M133.7 503.8h1.8M133.7 491.3h1.8M133.7 483.0h1.8M133.7 478.8h1.8M135.6 497.6h1.8M135.6 480.9h1.8M135.6 476.7h1.8M135.6 472.6h1.8M137.5 512.1h1.8M137.5 499.6h1.8M137.5 487.1h1.8M139.4 518.4h1.8M139.4 501.7h1.8M139.4 493.4h1.8M139.4 489.2h1.8M141.3 516.3h1.8M141.3 508.0h1.8M141.3 503.8h1.8M141.3 491.3h1.8M141.3 487.1h1.8M143.2 501.7h1.8M143.2 489.2h1.8M145.1 528.8h1.8M145.1 520.5h1.8M145.1 491.3h1.8M147.1 510.0h1.8M147.1 501.7h1.8M147.1 493.4h1.8M147.1 489.2h1.8M147.1 480.9h1.8M147.1 468.4h1.8M147.1 439.3h1.8M149.0 520.5h1.8M149.0 516.3h1.8M149.0 470.5h1.8M150.9 518.4h1.8M150.9 510.0h1.8M150.9 497.6h1.8M150.9 480.9h1.8M154.7 514.2h1.8M154.7 501.7h1.8M158.6 489.2h1.8M162.4 489.2h1.8M162.4 464.2h1.8M164.3 528.8h1.8M177.7 501.7h1.8M144.5 390.6h1.8M168.8 405.2h1.8M180.8 442.3h1.8M197.9 436.1h1.8M190.1 481.3h1.8M218.9 492.0h1.8M187.6 510.1h1.8" stroke="#ff1a00"/><path d="M68.5 466.3h1.8M87.7 491.3h1.8M89.6 485.1h1.8M93.4 460.1h1.8M99.2 458.0h1.8M99.2 437.2h1.8M101.1 493.4h1.8M101.1 485.1h1.8M103.0 462.2h1.8M104.9 493.4h1.8M104.9 480.9h1.8M106.8 491.3h1.8M106.8 483.0h1.8M108.8 447.6h1.8M110.7 512.1h1.8M110.7 487.1h1.8M110.7 478.8h1.8M112.6 476.7h1.8M114.5 503.8h1.8M114.5 499.6h1.8M114.5 487.1h1.8M114.5 483.0h1.8M114.5 478.8h1.8M114.5 474.7h1.8M114.5 453.8h1.8M116.4 530.9h1.8M116.4 514.2h1.8M116.4 510.0h1.8M116.4 497.6h1.8M116.4 493.4h1.8M116.4 480.9h1.8M116.4 476.7h1.8M116.4 460.1h1.8M118.3 545.4h1.8M118.3 533.0h1.8M118.3 512.1h1.8M118.3 508.0h1.8M118.3 499.6h1.8M118.3 491.3h1.8M118.3 487.1h1.8M120.2 530.9h1.8M120.2 518.4h1.8M120.2 514.2h1.8M120.2 510.0h1.8M120.2 505.9h1.8M120.2 501.7h1.8M120.2 493.4h1.8M122.2 508.0h1.8M124.1 530.9h1.8M124.1 526.7h1.8M124.1 518.4h1.8M124.1 497.6h1.8M124.1 489.2h1.8M126.0 545.4h1.8M126.0 528.8h1.8M126.0 520.5h1.8M126.0 499.6h1.8M126.0 495.5h1.8M126.0 462.2h1.8M127.9 530.9h1.8M127.9 522.5h1.8M127.9 514.2h1.8M129.8 524.6h1.8M129.8 483.0h1.8M131.7 514.2h1.8M131.7 510.0h1.8M131.7 497.6h1.8M131.7 489.2h1.8M131.7 472.6h1.8M133.7 528.8h1.8M133.7 520.5h1.8M133.7 508.0h1.8M133.7 445.5h1.8M135.6 522.5h1.8M135.6 514.2h1.8M135.6 460.1h1.8M137.5 524.6h1.8M137.5 520.5h1.8M137.5 508.0h1.8M137.5 491.3h1.8M139.4 526.7h1.8M139.4 464.2h1.8M141.3 512.1h1.8M145.1 495.5h1.8M145.1 483.0h1.8M147.1 518.4h1.8M147.1 460.1h1.8M149.0 508.0h1.8M150.9 464.2h1.8M152.8 491.3h1.8M154.7 510.0h1.8M156.6 478.8h1.8M158.6 514.2h1.8M158.6 501.7h1.8M162.4 501.7h1.8M173.9 476.7h1.8M173.9 468.4h1.8M179.6 503.8h1.8M148.6 394.8h1.8M168.2 397.7h1.8" stroke="#ff2500"/><path d="M70.5 455.9h1.8M74.3 472.6h1.8M78.1 464.2h1.8M95.3 487.1h1.8M101.1 455.9h1.8M104.9 472.6h1.8M108.8 460.1h1.8M112.6 468.4h1.8M112.6 464.2h1.8M112.6 460.1h1.8M118.3 483.0h1.8M120.2 485.1h1.8M120.2 468.4h1.8M122.2 483.0h1.8M122.2 478.8h1.8M122.2 474.7h1.8M122.2 470.5h1.8M126.0 466.3h1.8M129.8 478.8h1.8M129.8 462.2h1.8M131.7 535.0h1.8M131.7 485.1h1.8M133.7 533.0h1.8M133.7 495.5h1.8M133.7 474.7h1.8M133.7 466.3h1.8M135.6 526.7h1.8M135.6 505.9h1.8M135.6 501.7h1.8M135.6 493.4h1.8M135.6 485.1h1.8M137.5 503.8h1.8M137.5 474.7h1.8M137.5 462.2h1.8M137.5 458.0h1.8M139.4 514.2h1.8M139.4 472.6h1.8M139.4 468.4h1.8M141.3 495.5h1.8M141.3 483.0h1.8M143.2 510.0h1.8M143.2 505.9h1.8M143.2 497.6h1.8M143.2 472.6h1.8M143.2 455.9h1.8M145.1 516.3h1.8M145.1 512.1h1.8M145.1 503.8h1.8M145.1 499.6h1.8M145.1 478.8h1.8M145.1 474.7h1.8M147.1 497.6h1.8M149.0 512.1h1.8M149.0 503.8h1.8M149.0 499.6h1.8M149.0 495.5h1.8M150.9 501.7h1.8M150.9 485.1h1.8M152.8 516.3h1.8M152.8 508.0h1.8M152.8 483.0h1.8M154.7 480.9h1.8M156.6 462.2h1.8M160.5 495.5h1.8M162.4 505.9h1.8M162.4 480.9h1.8M162.4 468.4h1.8M168.1 508.0h1.8M168.1 495.5h1.8M179.6 466.3h1.8M159.5 399.0h1.8M140.1 402.7h1.8M236.4 485.4h1.8M194.5 497.6h1.8M170.7 436.1h1.8" stroke="#ff1500"/><path d="M72.4 495.5h1.8M74.3 501.7h1.8M74.3 493.4h1.8M78.1 510.0h1.8M78.1 501.7h1.8M80.0 520.5h1.8M80.0 512.1h1.8M80.0 499.6h1.8M81.9 518.4h1.8M81.9 501.7h1.8M81.9 493.4h1.8M81.9 489.2h1.8M81.9 485.1h1.8M83.9 524.6h1.8M83.9 520.5h1.8M83.9 512.1h1.8M83.9 499.6h1.8M85.8 522.5h1.8M85.8 493.4h1.8M87.7 524.6h1.8M89.6 543.4h1.8M91.5 537.1h1.8M91.5 533.0h1.8M93.4 539.2h1.8M95.3 557.9h1.8M95.3 549.6h1.8M95.3 533.0h1.8M97.3 547.5h1.8M99.2 557.9h1.8M103.0 541.3h1.8M112.6 543.4h1.8M114.5 549.6h1.8M116.4 539.2h1.8M116.4 455.9h1.8M126.0 533.0h1.8M137.5 528.8h1.8M147.1 451.7h1.8M156.6 449.7h1.8" stroke="#ff4f00"/><path d="M72.4 474.7h1.8M80.0 433.0h1.8M89.6 505.9h1.8M89.6 497.6h1.8M89.6 480.9h1.8M91.5 508.0h1.8M91.5 503.8h1.8M93.4 501.7h1.8M93.4 497.6h1.8M93.4 493.4h1.8M93.4 480.9h1.8M93.4 476.7h1.8M95.3 528.8h1.8M95.3 512.1h1.8M95.3 474.7h1.8M97.3 514.2h1.8M97.3 510.0h1.8M97.3 447.6h1.8M99.2 516.3h1.8M99.2 503.8h1.8M99.2 499.6h1.8M99.2 466.3h1.8M101.1 510.0h1.8M101.1 505.9h1.8M101.1 501.7h1.8M103.0 528.8h1.8M103.0 520.5h1.8M103.0 516.3h1.8M103.0 512.1h1.8M104.9 530.9h1.8M104.9 526.7h1.8M104.9 522.5h1.8M104.9 518.4h1.8M104.9 505.9h1.8M104.9 501.7h1.8M106.8 524.6h1.8M106.8 520.5h1.8M106.8 508.0h1.8M106.8 503.8h1.8M106.8 499.6h1.8M106.8 453.8h1.8M108.8 530.9h1.8M108.8 526.7h1.8M108.8 522.5h1.8M108.8 518.4h1.8M108.8 493.4h1.8M110.7 533.0h1.8M110.7 528.8h1.8M110.7 524.6h1.8M110.7 520.5h1.8M112.6 518.4h1.8M112.6 480.9h1.8M114.5 533.0h1.8M114.5 512.1h1.8M120.2 539.2h1.8M120.2 535.0h1.8M122.2 541.3h1.8M122.2 537.1h1.8M122.2 462.2h1.8M122.2 453.8h1.8M124.1 468.4h1.8M126.0 524.6h1.8M133.7 537.1h1.8M143.2 476.7h1.8M149.0 487.1h1.8M149.0 453.8h1.8M156.6 474.7h1.8M158.6 476.7h1.8M195.1 487.5h1.8" stroke="#ff3500"/><path d="M116.4 464.2h1.8M122.2 458.0h1.8M126.0 458.0h1.8M127.9 539.2h1.8M129.8 470.5h1.8M129.8 466.3h1.8M131.7 468.4h1.8M133.7 470.5h1.8M135.6 539.2h1.8M139.4 485.1h1.8M139.4 476.7h1.8M141.3 458.0h1.8M141.3 441.3h1.8M143.2 460.1h1.8M145.1 524.6h1.8M147.1 472.6h1.8M152.8 520.5h1.8M152.8 503.8h1.8M154.7 505.9h1.8M154.7 497.6h1.8M154.7 493.4h1.8M154.7 485.1h1.8M156.6 512.1h1.8M156.6 503.8h1.8M156.6 495.5h1.8M158.6 497.6h1.8M158.6 493.4h1.8M158.6 485.1h1.8M162.4 497.6h1.8M162.4 493.4h1.8M164.3 508.0h1.8M166.2 514.2h1.8M166.2 489.2h1.8M168.1 499.6h1.8M170.0 489.2h1.8M170.0 476.7h1.8M172.0 512.1h1.8M175.8 499.6h1.8M177.7 472.6h1.8M179.6 491.3h1.8M142.6 421.4h1.8M148.2 423.9h1.8M224.5 497.6h1.8M201.4 497.6h1.8" stroke="#ff0a00"/></g><line x1="49" y1="594.5" x2="193" y2="355" stroke="#000" stroke-width="1.25"/><path d="M49 594.5v-4.4M49 355v4.4M81 594.5v-4.4M81 355v4.4M113 594.5v-4.4M113 355v4.4M145 594.5v-4.4M145 355v4.4M177 594.5v-4.4M177 355v4.4M209 594.5v-4.4M209 355v4.4M241 594.5v-4.4M241 355v4.4M49 594.5h4.4M241 594.5h-4.4M49 567.89h4.4M241 567.89h-4.4M49 541.28h4.4M241 541.28h-4.4M49 514.67h4.4M241 514.67h-4.4M49 488.06h4.4M241 488.06h-4.4M49 461.44h4.4M241 461.44h-4.4M49 434.83h4.4M241 434.83h-4.4M49 408.22h4.4M241 408.22h-4.4M49 381.61h4.4M241 381.61h-4.4M49 355h4.4M241 355h-4.4" stroke="#000" stroke-width="0.7" fill="none"/><rect x="49" y="355" width="192" height="239.5" fill="none" stroke="#000" stroke-width="1.35"/><g class="tk"><text x="49" y="610.6" text-anchor="middle">0</text><text x="81" y="610.6" text-anchor="middle">10</text><text x="113" y="610.6" text-anchor="middle">20</text><text x="145" y="610.6" text-anchor="middle">30</text><text x="177" y="610.6" text-anchor="middle">40</text><text x="209" y="610.6" text-anchor="middle">50</text><text x="241" y="610.6" text-anchor="middle">60</text><text x="44.7" y="598" text-anchor="end">0</text><text x="44.7" y="571.39" text-anchor="end">5</text><text x="44.7" y="544.78" text-anchor="end">10</text><text x="44.7" y="518.17" text-anchor="end">15</text><text x="44.7" y="491.56" text-anchor="end">20</text><text x="44.7" y="464.94" text-anchor="end">25</text><text x="44.7" y="438.33" text-anchor="end">30</text><text x="44.7" y="411.72" text-anchor="end">35</text><text x="44.7" y="385.11" text-anchor="end">40</text><text x="44.7" y="358.5" text-anchor="end">45</text></g><text class="lb" x="144.35" y="630.7" text-anchor="middle" textLength="104" lengthAdjust="spacingAndGlyphs">Degree of node</text><text class="lb" transform="translate(18.2 474.75) rotate(-90)" x="0" y="0" text-anchor="middle" textLength="176.5" lengthAdjust="spacingAndGlyphs">Mean degree of neighbors</text><linearGradient id="gAbot" x1="0" y1="0" x2="0" y2="1"><stop offset="0.0000" stop-color="#ff0000"/><stop offset="0.1250" stop-color="#ff1f00"/><stop offset="0.2500" stop-color="#ff3f00"/><stop offset="0.3750" stop-color="#ff5f00"/><stop offset="0.5000" stop-color="#ff7f00"/><stop offset="0.6250" stop-color="#ff9f00"/><stop offset="0.7500" stop-color="#ffbf00"/><stop offset="0.8750" stop-color="#ffdf00"/><stop offset="1.0000" stop-color="#ffff00"/></linearGradient><rect x="252.8" y="355" width="12.7" height="239.5" fill="url(#gAbot)" stroke="#000" stroke-width="1.3"/><path d="M265.5 570.55h-4.4M265.5 546.6h-4.4M265.5 522.65h-4.4M265.5 498.7h-4.4M265.5 474.75h-4.4M265.5 450.8h-4.4M265.5 426.85h-4.4M265.5 402.9h-4.4M265.5 378.95h-4.4" stroke="#000" stroke-width="0.7"/><g class="tk"><text x="268.5" y="597.9">0</text><text x="268.5" y="573.95">10</text><text x="268.5" y="550">20</text><text x="268.5" y="526.05">30</text><text x="268.5" y="502.1">40</text><text x="268.5" y="478.15">50</text><text x="268.5" y="454.2">60</text><text x="268.5" y="430.25">70</text><text x="268.5" y="406.3">80</text><text x="268.5" y="382.35">90</text><text x="268.5" y="358.4">100</text></g><text class="lb" transform="translate(310.3 474.75) rotate(-90)" text-anchor="middle" textLength="178.5" lengthAdjust="spacingAndGlyphs">mean percentage infected</text><clipPath id="clp3"><rect x="366.8" y="355" width="191.8" height="239.5"/></clipPath><g clip-path="url(#clp3)" stroke-width="3.24" stroke-linecap="round" fill="none"><path d="M369.1 585.0h1.8M369.1 510.0h1.8M369.1 497.6h1.8M369.1 493.4h1.8M369.1 489.2h1.8M371.0 587.1h1.8M371.0 549.6h1.8M371.0 533.0h1.8M372.9 580.8h1.8M372.9 576.7h1.8M372.9 497.6h1.8M372.9 480.9h1.8M372.9 464.2h1.8M372.9 447.6h1.8M372.9 443.4h1.8M374.8 578.8h1.8M374.8 503.8h1.8M374.8 495.5h1.8M374.8 491.3h1.8M374.8 474.7h1.8M376.7 497.6h1.8M376.7 493.4h1.8M378.7 570.4h1.8M378.7 445.5h1.8M380.6 497.6h1.8M380.6 489.2h1.8M380.6 480.9h1.8M380.6 476.7h1.8M384.4 568.4h1.8M384.4 485.1h1.8M384.4 480.9h1.8M384.4 472.6h1.8M386.3 570.4h1.8M388.2 572.5h1.8M388.2 568.4h1.8M388.2 493.4h1.8M388.2 485.1h1.8M388.2 480.9h1.8M388.2 468.4h1.8M388.2 451.7h1.8M390.1 562.1h1.8M392.1 572.5h1.8M392.1 485.1h1.8M392.1 439.3h1.8M394.0 466.3h1.8M395.9 489.2h1.8M401.6 445.5h1.8M403.5 480.9h1.8M403.5 455.9h1.8M405.4 458.0h1.8M413.1 553.8h1.8M416.9 557.9h1.8M418.8 464.2h1.8M420.8 458.0h1.8M424.6 557.9h1.8M424.6 545.4h1.8M430.3 464.2h1.8M439.9 437.2h1.8M443.7 533.0h1.8M445.6 535.0h1.8M447.5 449.7h1.8M455.2 528.8h1.8M464.8 522.5h1.8M464.8 460.1h1.8M466.7 458.0h1.8M468.6 526.7h1.8M480.1 480.9h1.8M485.8 466.3h1.8M489.6 508.0h1.8M386.1 407.1h1.8M498.5 436.1h1.8" stroke="#fff500"/><path d="M369.1 572.5h1.8M369.1 514.2h1.8M378.7 578.8h1.8M378.7 495.5h1.8M378.7 478.8h1.8M378.7 474.7h1.8M378.7 458.0h1.8M380.6 493.4h1.8M380.6 485.1h1.8M380.6 472.6h1.8M382.5 491.3h1.8M382.5 487.1h1.8M382.5 445.5h1.8M384.4 514.2h1.8M386.3 491.3h1.8M386.3 466.3h1.8M388.2 510.0h1.8M388.2 489.2h1.8M388.2 476.7h1.8M388.2 455.9h1.8M390.1 582.9h1.8M390.1 570.4h1.8M390.1 566.3h1.8M390.1 533.0h1.8M390.1 528.8h1.8M390.1 516.3h1.8M390.1 512.1h1.8M390.1 499.6h1.8M390.1 495.5h1.8M390.1 491.3h1.8M390.1 487.1h1.8M390.1 462.2h1.8M392.1 555.9h1.8M392.1 526.7h1.8M392.1 522.5h1.8M392.1 514.2h1.8M392.1 501.7h1.8M392.1 497.6h1.8M392.1 493.4h1.8M392.1 480.9h1.8M394.0 549.6h1.8M394.0 541.3h1.8M394.0 537.1h1.8M394.0 528.8h1.8M394.0 524.6h1.8M394.0 516.3h1.8M394.0 508.0h1.8M394.0 503.8h1.8M394.0 499.6h1.8M394.0 495.5h1.8M394.0 491.3h1.8M394.0 487.1h1.8M394.0 474.7h1.8M395.9 576.7h1.8M395.9 564.2h1.8M395.9 547.5h1.8M395.9 543.4h1.8M395.9 539.2h1.8M395.9 535.0h1.8M395.9 530.9h1.8M395.9 526.7h1.8M395.9 518.4h1.8M395.9 514.2h1.8M395.9 510.0h1.8M395.9 505.9h1.8M395.9 501.7h1.8M395.9 480.9h1.8M395.9 476.7h1.8M397.8 562.1h1.8M397.8 557.9h1.8M397.8 545.4h1.8M397.8 533.0h1.8M397.8 528.8h1.8M397.8 524.6h1.8M397.8 520.5h1.8M397.8 516.3h1.8M397.8 512.1h1.8M397.8 508.0h1.8M397.8 503.8h1.8M397.8 499.6h1.8M397.8 495.5h1.8M397.8 483.0h1.8M397.8 458.0h1.8M399.7 564.2h1.8M399.7 551.7h1.8M399.7 543.4h1.8M399.7 539.2h1.8M399.7 535.0h1.8M399.7 530.9h1.8M399.7 526.7h1.8M399.7 522.5h1.8M399.7 518.4h1.8M399.7 514.2h1.8M399.7 510.0h1.8M399.7 505.9h1.8M399.7 501.7h1.8M399.7 497.6h1.8M399.7 480.9h1.8M399.7 451.7h1.8M401.6 566.3h1.8M401.6 557.9h1.8M401.6 553.8h1.8M401.6 549.6h1.8M401.6 545.4h1.8M401.6 541.3h1.8M401.6 533.0h1.8M401.6 528.8h1.8M401.6 524.6h1.8M401.6 520.5h1.8M401.6 512.1h1.8M401.6 508.0h1.8M401.6 503.8h1.8M401.6 499.6h1.8M401.6 487.1h1.8M401.6 483.0h1.8M401.6 470.5h1.8M401.6 453.8h1.8M403.5 560.0h1.8M403.5 551.7h1.8M403.5 543.4h1.8M403.5 539.2h1.8M403.5 535.0h1.8M403.5 530.9h1.8M403.5 526.7h1.8M403.5 522.5h1.8M403.5 518.4h1.8M403.5 514.2h1.8M403.5 510.0h1.8M403.5 505.9h1.8M403.5 501.7h1.8M403.5 497.6h1.8M403.5 493.4h1.8M403.5 489.2h1.8M405.4 557.9h1.8M405.4 545.4h1.8M405.4 541.3h1.8M405.4 537.1h1.8M405.4 533.0h1.8M405.4 528.8h1.8M405.4 524.6h1.8M405.4 520.5h1.8M405.4 516.3h1.8M405.4 508.0h1.8M405.4 503.8h1.8M405.4 495.5h1.8M405.4 487.1h1.8M405.4 478.8h1.8M407.4 560.0h1.8M407.4 547.5h1.8M407.4 539.2h1.8M407.4 535.0h1.8M407.4 530.9h1.8M407.4 526.7h1.8M407.4 522.5h1.8M407.4 518.4h1.8M407.4 514.2h1.8M407.4 510.0h1.8M407.4 505.9h1.8M407.4 501.7h1.8M407.4 472.6h1.8M407.4 455.9h1.8M409.3 557.9h1.8M409.3 553.8h1.8M409.3 549.6h1.8M409.3 541.3h1.8M409.3 537.1h1.8M409.3 533.0h1.8M409.3 528.8h1.8M409.3 524.6h1.8M409.3 520.5h1.8M409.3 516.3h1.8M409.3 512.1h1.8M409.3 508.0h1.8M409.3 503.8h1.8M409.3 499.6h1.8M409.3 491.3h1.8M409.3 478.8h1.8M409.3 458.0h1.8M409.3 453.8h1.8M411.2 547.5h1.8M411.2 543.4h1.8M411.2 539.2h1.8M411.2 535.0h1.8M411.2 530.9h1.8M411.2 526.7h1.8M411.2 522.5h1.8M411.2 518.4h1.8M411.2 514.2h1.8M411.2 505.9h1.8M411.2 501.7h1.8M411.2 493.4h1.8M411.2 489.2h1.8M411.2 485.1h1.8M411.2 476.7h1.8M411.2 468.4h1.8M411.2 435.1h1.8M413.1 549.6h1.8M413.1 541.3h1.8M413.1 533.0h1.8M413.1 528.8h1.8M413.1 524.6h1.8M413.1 516.3h1.8M413.1 512.1h1.8M413.1 508.0h1.8M413.1 503.8h1.8M413.1 487.1h1.8M413.1 478.8h1.8M413.1 470.5h1.8M415.0 547.5h1.8M415.0 539.2h1.8M415.0 535.0h1.8M415.0 530.9h1.8M415.0 526.7h1.8M415.0 522.5h1.8M415.0 514.2h1.8M415.0 501.7h1.8M415.0 497.6h1.8M415.0 464.2h1.8M416.9 549.6h1.8M416.9 545.4h1.8M416.9 537.1h1.8M416.9 533.0h1.8M416.9 528.8h1.8M416.9 524.6h1.8M416.9 520.5h1.8M416.9 516.3h1.8M416.9 512.1h1.8M416.9 499.6h1.8M418.8 547.5h1.8M418.8 543.4h1.8M418.8 539.2h1.8M418.8 535.0h1.8M418.8 530.9h1.8M418.8 526.7h1.8M418.8 522.5h1.8M418.8 514.2h1.8M418.8 510.0h1.8M418.8 468.4h1.8M418.8 451.7h1.8M420.8 541.3h1.8M420.8 533.0h1.8M420.8 524.6h1.8M420.8 499.6h1.8M420.8 487.1h1.8M420.8 470.5h1.8M422.7 551.7h1.8M422.7 543.4h1.8M422.7 526.7h1.8M422.7 514.2h1.8M422.7 468.4h1.8M424.6 549.6h1.8M424.6 541.3h1.8M424.6 533.0h1.8M424.6 528.8h1.8M424.6 512.1h1.8M424.6 508.0h1.8M424.6 503.8h1.8M424.6 487.1h1.8M426.5 526.7h1.8M426.5 489.2h1.8M426.5 485.1h1.8M426.5 468.4h1.8M428.4 537.1h1.8M428.4 533.0h1.8M428.4 487.1h1.8M428.4 462.2h1.8M430.3 543.4h1.8M430.3 535.0h1.8M430.3 468.4h1.8M432.2 537.1h1.8M432.2 533.0h1.8M432.2 528.8h1.8M432.2 524.6h1.8M432.2 499.6h1.8M432.2 466.3h1.8M432.2 462.2h1.8M434.1 480.9h1.8M434.1 476.7h1.8M434.1 460.1h1.8M436.1 533.0h1.8M436.1 499.6h1.8M436.1 495.5h1.8M436.1 462.2h1.8M438.0 485.1h1.8M439.9 541.3h1.8M439.9 453.8h1.8M441.8 530.9h1.8M441.8 460.1h1.8M443.7 537.1h1.8M443.7 508.0h1.8M443.7 470.5h1.8M445.6 522.5h1.8M445.6 464.2h1.8M445.6 447.6h1.8M447.5 533.0h1.8M447.5 528.8h1.8M447.5 462.2h1.8M447.5 453.8h1.8M451.4 524.6h1.8M451.4 520.5h1.8M451.4 470.5h1.8M455.2 537.1h1.8M455.2 524.6h1.8M455.2 453.8h1.8M457.1 522.5h1.8M459.0 524.6h1.8M459.0 470.5h1.8M462.8 524.6h1.8M462.8 470.5h1.8M466.7 470.5h1.8M468.6 497.6h1.8M468.6 493.4h1.8M470.5 483.0h1.8M472.4 510.0h1.8M472.4 505.9h1.8M476.2 468.4h1.8M478.1 491.3h1.8M478.1 478.8h1.8M480.1 497.6h1.8M482.0 483.0h1.8M487.7 472.6h1.8M489.6 516.3h1.8M495.4 464.2h1.8" stroke="#ffea00"/><path d="M369.1 568.4h1.8M369.1 435.1h1.8M371.0 474.7h1.8M374.8 449.7h1.8M376.7 489.2h1.8M376.7 485.1h1.8M378.7 470.5h1.8M378.7 462.2h1.8M380.6 447.6h1.8M380.6 430.9h1.8M382.5 474.7h1.8M382.5 470.5h1.8M386.3 574.6h1.8M390.1 574.6h1.8M390.1 474.7h1.8M390.1 466.3h1.8M390.1 445.5h1.8M392.1 468.4h1.8M394.0 483.0h1.8M394.0 462.2h1.8M394.0 453.8h1.8M397.8 566.3h1.8M397.8 487.1h1.8M397.8 462.2h1.8M399.7 485.1h1.8M399.7 472.6h1.8M401.6 562.1h1.8M401.6 495.5h1.8M401.6 491.3h1.8M401.6 478.8h1.8M401.6 474.7h1.8M401.6 441.3h1.8M403.5 468.4h1.8M405.4 491.3h1.8M405.4 428.8h1.8M407.4 497.6h1.8M407.4 480.9h1.8M407.4 476.7h1.8M407.4 468.4h1.8M407.4 464.2h1.8M409.3 545.4h1.8M409.3 495.5h1.8M409.3 487.1h1.8M409.3 483.0h1.8M409.3 474.7h1.8M409.3 470.5h1.8M409.3 466.3h1.8M411.2 555.9h1.8M411.2 510.0h1.8M411.2 497.6h1.8M411.2 464.2h1.8M411.2 443.4h1.8M413.1 520.5h1.8M413.1 499.6h1.8M413.1 495.5h1.8M413.1 491.3h1.8M413.1 474.7h1.8M413.1 433.0h1.8M415.0 551.7h1.8M415.0 518.4h1.8M415.0 510.0h1.8M415.0 505.9h1.8M415.0 493.4h1.8M415.0 485.1h1.8M416.9 541.3h1.8M416.9 508.0h1.8M416.9 503.8h1.8M416.9 495.5h1.8M416.9 491.3h1.8M416.9 483.0h1.8M416.9 470.5h1.8M416.9 458.0h1.8M418.8 551.7h1.8M418.8 518.4h1.8M418.8 505.9h1.8M418.8 501.7h1.8M418.8 497.6h1.8M418.8 485.1h1.8M418.8 480.9h1.8M418.8 476.7h1.8M418.8 472.6h1.8M420.8 549.6h1.8M420.8 537.1h1.8M420.8 528.8h1.8M420.8 520.5h1.8M420.8 516.3h1.8M420.8 512.1h1.8M420.8 508.0h1.8M420.8 503.8h1.8M420.8 495.5h1.8M422.7 539.2h1.8M422.7 535.0h1.8M422.7 530.9h1.8M422.7 522.5h1.8M422.7 518.4h1.8M422.7 510.0h1.8M422.7 505.9h1.8M422.7 501.7h1.8M422.7 497.6h1.8M422.7 493.4h1.8M422.7 489.2h1.8M422.7 485.1h1.8M422.7 480.9h1.8M422.7 472.6h1.8M424.6 537.1h1.8M424.6 524.6h1.8M424.6 520.5h1.8M424.6 516.3h1.8M424.6 499.6h1.8M424.6 495.5h1.8M424.6 491.3h1.8M424.6 483.0h1.8M426.5 543.4h1.8M426.5 539.2h1.8M426.5 535.0h1.8M426.5 530.9h1.8M426.5 522.5h1.8M426.5 518.4h1.8M426.5 514.2h1.8M426.5 510.0h1.8M426.5 505.9h1.8M426.5 501.7h1.8M426.5 497.6h1.8M426.5 480.9h1.8M428.4 545.4h1.8M428.4 528.8h1.8M428.4 524.6h1.8M428.4 520.5h1.8M428.4 516.3h1.8M428.4 512.1h1.8M428.4 508.0h1.8M428.4 503.8h1.8M428.4 499.6h1.8M428.4 495.5h1.8M428.4 491.3h1.8M428.4 483.0h1.8M428.4 474.7h1.8M428.4 470.5h1.8M428.4 453.8h1.8M428.4 449.7h1.8M430.3 530.9h1.8M430.3 526.7h1.8M430.3 522.5h1.8M430.3 518.4h1.8M430.3 514.2h1.8M430.3 510.0h1.8M430.3 505.9h1.8M430.3 501.7h1.8M430.3 497.6h1.8M430.3 493.4h1.8M430.3 485.1h1.8M430.3 480.9h1.8M432.2 520.5h1.8M432.2 516.3h1.8M432.2 512.1h1.8M432.2 508.0h1.8M432.2 503.8h1.8M432.2 495.5h1.8M432.2 491.3h1.8M432.2 487.1h1.8M432.2 478.8h1.8M432.2 474.7h1.8M432.2 470.5h1.8M434.1 530.9h1.8M434.1 526.7h1.8M434.1 522.5h1.8M434.1 518.4h1.8M434.1 510.0h1.8M434.1 505.9h1.8M434.1 501.7h1.8M434.1 497.6h1.8M434.1 468.4h1.8M434.1 464.2h1.8M434.1 455.9h1.8M436.1 528.8h1.8M436.1 520.5h1.8M436.1 516.3h1.8M436.1 512.1h1.8M436.1 508.0h1.8M436.1 503.8h1.8M436.1 491.3h1.8M436.1 487.1h1.8M436.1 483.0h1.8M436.1 478.8h1.8M436.1 453.8h1.8M438.0 530.9h1.8M438.0 522.5h1.8M438.0 518.4h1.8M438.0 514.2h1.8M438.0 510.0h1.8M438.0 505.9h1.8M438.0 501.7h1.8M438.0 493.4h1.8M438.0 480.9h1.8M438.0 464.2h1.8M438.0 451.7h1.8M439.9 533.0h1.8M439.9 524.6h1.8M439.9 520.5h1.8M439.9 516.3h1.8M439.9 512.1h1.8M439.9 508.0h1.8M439.9 499.6h1.8M439.9 495.5h1.8M439.9 487.1h1.8M439.9 483.0h1.8M439.9 478.8h1.8M439.9 470.5h1.8M439.9 466.3h1.8M441.8 535.0h1.8M441.8 522.5h1.8M441.8 505.9h1.8M441.8 493.4h1.8M441.8 485.1h1.8M441.8 476.7h1.8M443.7 528.8h1.8M443.7 524.6h1.8M443.7 520.5h1.8M443.7 495.5h1.8M443.7 491.3h1.8M443.7 487.1h1.8M443.7 483.0h1.8M443.7 466.3h1.8M443.7 449.7h1.8M445.6 514.2h1.8M445.6 505.9h1.8M445.6 485.1h1.8M445.6 468.4h1.8M445.6 460.1h1.8M447.5 520.5h1.8M447.5 512.1h1.8M447.5 491.3h1.8M447.5 478.8h1.8M447.5 441.3h1.8M449.5 535.0h1.8M449.5 522.5h1.8M449.5 518.4h1.8M449.5 514.2h1.8M449.5 489.2h1.8M449.5 476.7h1.8M449.5 468.4h1.8M451.4 533.0h1.8M451.4 528.8h1.8M451.4 508.0h1.8M451.4 503.8h1.8M451.4 491.3h1.8M451.4 487.1h1.8M453.3 518.4h1.8M453.3 505.9h1.8M453.3 497.6h1.8M453.3 493.4h1.8M453.3 489.2h1.8M453.3 480.9h1.8M453.3 464.2h1.8M453.3 460.1h1.8M455.2 533.0h1.8M455.2 512.1h1.8M457.1 530.9h1.8M457.1 518.4h1.8M457.1 497.6h1.8M457.1 485.1h1.8M459.0 528.8h1.8M459.0 520.5h1.8M459.0 508.0h1.8M459.0 499.6h1.8M459.0 483.0h1.8M459.0 466.3h1.8M459.0 449.7h1.8M460.9 501.7h1.8M462.8 520.5h1.8M462.8 512.1h1.8M462.8 487.1h1.8M462.8 478.8h1.8M464.8 518.4h1.8M464.8 514.2h1.8M464.8 510.0h1.8M464.8 493.4h1.8M464.8 480.9h1.8M466.7 524.6h1.8M466.7 503.8h1.8M468.6 480.9h1.8M468.6 468.4h1.8M470.5 487.1h1.8M470.5 478.8h1.8M470.5 458.0h1.8M472.4 464.2h1.8M474.3 508.0h1.8M474.3 503.8h1.8M474.3 478.8h1.8M474.3 474.7h1.8M474.3 449.7h1.8M476.2 493.4h1.8M476.2 480.9h1.8M476.2 476.7h1.8M478.1 495.5h1.8M480.1 505.9h1.8M482.0 499.6h1.8M483.9 505.9h1.8M485.8 520.5h1.8M485.8 508.0h1.8M495.4 505.9h1.8M369.3 359.9h1.8M374.8 419.3h1.8M378.6 423.6h1.8M399.6 425.6h1.8M481.5 390.6h1.8M477.2 399.0h1.8M462.4 407.1h1.8M508.4 493.0h1.8M497.2 507.6h1.8" stroke="#ffe500"/><path d="M369.1 555.9h1.8M369.1 547.5h1.8M369.1 476.7h1.8M369.1 439.3h1.8M371.0 433.0h1.8M372.9 485.1h1.8M374.8 582.9h1.8M376.7 480.9h1.8M376.7 447.6h1.8M378.7 491.3h1.8M378.7 441.3h1.8M380.6 468.4h1.8M384.4 493.4h1.8M384.4 439.3h1.8M392.1 576.7h1.8M394.0 570.4h1.8M394.0 470.5h1.8M394.0 458.0h1.8M395.9 568.4h1.8M395.9 464.2h1.8M405.4 474.7h1.8M405.4 462.2h1.8M407.4 564.2h1.8M413.1 453.8h1.8M424.6 462.2h1.8M428.4 549.6h1.8M438.0 539.2h1.8M441.8 451.7h1.8M460.9 526.7h1.8M462.8 528.8h1.8M466.7 453.8h1.8M474.3 516.3h1.8M474.3 512.1h1.8M482.0 491.3h1.8M384.6 421.5h1.8M376.7 425.6h1.8M515.3 477.2h1.8" stroke="#fffa00"/><path d="M369.1 551.7h1.8M369.1 535.0h1.8M369.1 530.9h1.8M369.1 455.9h1.8M371.0 578.8h1.8M371.0 570.4h1.8M371.0 562.1h1.8M371.0 557.9h1.8M371.0 553.8h1.8M371.0 541.3h1.8M371.0 528.8h1.8M371.0 524.6h1.8M371.0 520.5h1.8M371.0 512.1h1.8M371.0 503.8h1.8M371.0 495.5h1.8M371.0 491.3h1.8M371.0 487.1h1.8M371.0 483.0h1.8M371.0 466.3h1.8M371.0 458.0h1.8M372.9 585.0h1.8M372.9 572.5h1.8M372.9 568.4h1.8M372.9 564.2h1.8M372.9 560.0h1.8M372.9 551.7h1.8M372.9 547.5h1.8M372.9 543.4h1.8M372.9 539.2h1.8M372.9 535.0h1.8M372.9 530.9h1.8M372.9 522.5h1.8M372.9 518.4h1.8M372.9 514.2h1.8M372.9 510.0h1.8M372.9 505.9h1.8M372.9 501.7h1.8M372.9 493.4h1.8M372.9 468.4h1.8M374.8 574.6h1.8M374.8 570.4h1.8M374.8 566.3h1.8M374.8 562.1h1.8M374.8 557.9h1.8M374.8 553.8h1.8M374.8 549.6h1.8M374.8 545.4h1.8M374.8 541.3h1.8M374.8 537.1h1.8M374.8 533.0h1.8M374.8 528.8h1.8M374.8 524.6h1.8M374.8 520.5h1.8M374.8 516.3h1.8M374.8 512.1h1.8M374.8 508.0h1.8M374.8 499.6h1.8M374.8 437.2h1.8M376.7 580.8h1.8M376.7 576.7h1.8M376.7 572.5h1.8M376.7 568.4h1.8M376.7 564.2h1.8M376.7 560.0h1.8M376.7 555.9h1.8M376.7 551.7h1.8M376.7 547.5h1.8M376.7 543.4h1.8M376.7 539.2h1.8M376.7 535.0h1.8M376.7 530.9h1.8M376.7 526.7h1.8M376.7 522.5h1.8M376.7 518.4h1.8M376.7 514.2h1.8M376.7 510.0h1.8M376.7 505.9h1.8M376.7 501.7h1.8M376.7 451.7h1.8M378.7 574.6h1.8M378.7 566.3h1.8M378.7 562.1h1.8M378.7 557.9h1.8M378.7 553.8h1.8M378.7 549.6h1.8M378.7 545.4h1.8M378.7 541.3h1.8M378.7 537.1h1.8M378.7 533.0h1.8M378.7 528.8h1.8M378.7 524.6h1.8M378.7 520.5h1.8M378.7 516.3h1.8M378.7 512.1h1.8M378.7 508.0h1.8M378.7 503.8h1.8M378.7 499.6h1.8M378.7 487.1h1.8M378.7 483.0h1.8M378.7 449.7h1.8M380.6 572.5h1.8M380.6 568.4h1.8M380.6 564.2h1.8M380.6 560.0h1.8M380.6 555.9h1.8M380.6 551.7h1.8M380.6 547.5h1.8M380.6 543.4h1.8M380.6 539.2h1.8M380.6 535.0h1.8M380.6 530.9h1.8M380.6 526.7h1.8M380.6 522.5h1.8M380.6 518.4h1.8M380.6 514.2h1.8M380.6 510.0h1.8M380.6 505.9h1.8M380.6 501.7h1.8M382.5 570.4h1.8M382.5 566.3h1.8M382.5 562.1h1.8M382.5 557.9h1.8M382.5 553.8h1.8M382.5 549.6h1.8M382.5 545.4h1.8M382.5 541.3h1.8M382.5 537.1h1.8M382.5 533.0h1.8M382.5 528.8h1.8M382.5 524.6h1.8M382.5 520.5h1.8M382.5 516.3h1.8M382.5 512.1h1.8M382.5 508.0h1.8M382.5 503.8h1.8M382.5 499.6h1.8M382.5 495.5h1.8M382.5 483.0h1.8M382.5 453.8h1.8M382.5 437.2h1.8M384.4 572.5h1.8M384.4 564.2h1.8M384.4 560.0h1.8M384.4 555.9h1.8M384.4 551.7h1.8M384.4 547.5h1.8M384.4 543.4h1.8M384.4 539.2h1.8M384.4 535.0h1.8M384.4 530.9h1.8M384.4 526.7h1.8M384.4 522.5h1.8M384.4 518.4h1.8M384.4 510.0h1.8M384.4 505.9h1.8M384.4 501.7h1.8M384.4 497.6h1.8M384.4 489.2h1.8M384.4 476.7h1.8M384.4 443.4h1.8M386.3 566.3h1.8M386.3 562.1h1.8M386.3 557.9h1.8M386.3 553.8h1.8M386.3 549.6h1.8M386.3 545.4h1.8M386.3 541.3h1.8M386.3 537.1h1.8M386.3 533.0h1.8M386.3 528.8h1.8M386.3 524.6h1.8M386.3 520.5h1.8M386.3 516.3h1.8M386.3 512.1h1.8M386.3 508.0h1.8M386.3 503.8h1.8M386.3 499.6h1.8M386.3 495.5h1.8M386.3 487.1h1.8M388.2 576.7h1.8M388.2 564.2h1.8M388.2 560.0h1.8M388.2 555.9h1.8M388.2 551.7h1.8M388.2 547.5h1.8M388.2 543.4h1.8M388.2 539.2h1.8M388.2 535.0h1.8M388.2 530.9h1.8M388.2 526.7h1.8M388.2 522.5h1.8M388.2 518.4h1.8M388.2 514.2h1.8M388.2 505.9h1.8M388.2 501.7h1.8M388.2 497.6h1.8M388.2 460.1h1.8M390.1 557.9h1.8M390.1 553.8h1.8M390.1 549.6h1.8M390.1 545.4h1.8M390.1 541.3h1.8M390.1 537.1h1.8M390.1 524.6h1.8M390.1 520.5h1.8M390.1 508.0h1.8M390.1 503.8h1.8M390.1 483.0h1.8M392.1 568.4h1.8M392.1 564.2h1.8M392.1 560.0h1.8M392.1 551.7h1.8M392.1 547.5h1.8M392.1 543.4h1.8M392.1 539.2h1.8M392.1 535.0h1.8M392.1 530.9h1.8M392.1 518.4h1.8M392.1 510.0h1.8M392.1 505.9h1.8M392.1 489.2h1.8M392.1 476.7h1.8M394.0 566.3h1.8M394.0 562.1h1.8M394.0 557.9h1.8M394.0 553.8h1.8M394.0 545.4h1.8M394.0 533.0h1.8M394.0 520.5h1.8M394.0 512.1h1.8M394.0 478.8h1.8M394.0 449.7h1.8M394.0 437.2h1.8M395.9 560.0h1.8M395.9 555.9h1.8M395.9 551.7h1.8M395.9 522.5h1.8M395.9 497.6h1.8M395.9 493.4h1.8M395.9 485.1h1.8M395.9 451.7h1.8M397.8 553.8h1.8M397.8 549.6h1.8M397.8 541.3h1.8M397.8 537.1h1.8M397.8 491.3h1.8M397.8 478.8h1.8M397.8 474.7h1.8M397.8 470.5h1.8M399.7 560.0h1.8M399.7 555.9h1.8M399.7 547.5h1.8M399.7 493.4h1.8M399.7 489.2h1.8M399.7 476.7h1.8M399.7 464.2h1.8M399.7 460.1h1.8M399.7 455.9h1.8M401.6 537.1h1.8M401.6 516.3h1.8M403.5 555.9h1.8M403.5 547.5h1.8M403.5 485.1h1.8M403.5 476.7h1.8M403.5 472.6h1.8M405.4 562.1h1.8M405.4 553.8h1.8M405.4 549.6h1.8M405.4 512.1h1.8M405.4 499.6h1.8M405.4 470.5h1.8M407.4 555.9h1.8M407.4 551.7h1.8M407.4 543.4h1.8M407.4 493.4h1.8M407.4 489.2h1.8M407.4 485.1h1.8M407.4 439.3h1.8M409.3 562.1h1.8M411.2 551.7h1.8M411.2 480.9h1.8M411.2 472.6h1.8M411.2 460.1h1.8M413.1 557.9h1.8M413.1 545.4h1.8M413.1 537.1h1.8M413.1 462.2h1.8M413.1 445.5h1.8M415.0 555.9h1.8M415.0 543.4h1.8M415.0 489.2h1.8M415.0 480.9h1.8M415.0 472.6h1.8M416.9 553.8h1.8M416.9 487.1h1.8M416.9 474.7h1.8M420.8 483.0h1.8M420.8 474.7h1.8M422.7 547.5h1.8M426.5 547.5h1.8M428.4 541.3h1.8M430.3 472.6h1.8M432.2 453.8h1.8M434.1 547.5h1.8M434.1 543.4h1.8M434.1 539.2h1.8M436.1 537.1h1.8M436.1 466.3h1.8M438.0 439.3h1.8M439.9 449.7h1.8M441.8 543.4h1.8M441.8 468.4h1.8M441.8 455.9h1.8M443.7 545.4h1.8M443.7 445.5h1.8M445.6 539.2h1.8M445.6 530.9h1.8M447.5 458.0h1.8M449.5 530.9h1.8M449.5 526.7h1.8M451.4 541.3h1.8M453.3 539.2h1.8M457.1 464.2h1.8M460.9 485.1h1.8M460.9 443.4h1.8M468.6 518.4h1.8M472.4 472.6h1.8M474.3 462.2h1.8M482.0 528.8h1.8M495.4 472.6h1.8M374.8 390.6h1.8M375.5 395.2h1.8M380.8 392.7h1.8M373.0 405.2h1.8M399.6 405.2h1.8M371.1 423.6h1.8M391.1 427.7h1.8M486.5 405.2h1.8M469.1 413.9h1.8M490.9 425.5h1.8M433.6 425.9h1.8M504.1 477.2h1.8" stroke="#ffef00"/><path d="M369.1 472.6h1.8M371.0 445.5h1.8M372.9 451.7h1.8M374.8 458.0h1.8M380.6 576.7h1.8M382.5 478.8h1.8M382.5 458.0h1.8M384.4 447.6h1.8M386.3 483.0h1.8M390.1 578.8h1.8M392.1 472.6h1.8M401.6 449.7h1.8M411.2 455.9h1.8M416.9 453.8h1.8M416.9 441.3h1.8M426.5 447.6h1.8M439.9 537.1h1.8M439.9 441.3h1.8M441.8 464.2h1.8M447.5 445.5h1.8M451.4 537.1h1.8M455.2 449.7h1.8M457.1 447.6h1.8M464.8 451.7h1.8M476.2 451.7h1.8M480.1 510.0h1.8M482.0 470.5h1.8M482.0 466.3h1.8M485.8 478.8h1.8M485.8 453.8h1.8M371.1 395.2h1.8M386.1 427.7h1.8M545.9 427.7h1.8" stroke="#ffff00"/><path d="M371.0 428.8h1.8M403.5 464.2h1.8M405.4 483.0h1.8M405.4 466.3h1.8M409.3 449.7h1.8M418.8 460.1h1.8M418.8 455.9h1.8M420.8 462.2h1.8M422.7 455.9h1.8M424.6 453.8h1.8M426.5 476.7h1.8M436.1 545.4h1.8M439.9 462.2h1.8M439.9 458.0h1.8M447.5 466.3h1.8M451.4 453.8h1.8M451.4 445.5h1.8M453.3 530.9h1.8M453.3 526.7h1.8M453.3 472.6h1.8M455.2 458.0h1.8M459.0 458.0h1.8M459.0 445.5h1.8M459.0 437.2h1.8M460.9 522.5h1.8M460.9 476.7h1.8M464.8 526.7h1.8M464.8 485.1h1.8M466.7 474.7h1.8M466.7 466.3h1.8M466.7 462.2h1.8M468.6 489.2h1.8M468.6 460.1h1.8M472.4 514.2h1.8M472.4 489.2h1.8M472.4 476.7h1.8M476.2 514.2h1.8M478.1 503.8h1.8M480.1 501.7h1.8M480.1 464.2h1.8M482.0 508.0h1.8M482.0 495.5h1.8M482.0 474.7h1.8M483.9 489.2h1.8M485.8 512.1h1.8M485.8 487.1h1.8M487.7 480.9h1.8M489.6 487.1h1.8M491.5 485.1h1.8M491.5 472.6h1.8M495.4 510.0h1.8M457.8 402.7h1.8M496.6 431.8h1.8M507.8 481.3h1.8M516.6 489.4h1.8M538.4 501.7h1.8M537.8 510.1h1.8M483.3 436.1h1.8" stroke="#ffd500"/><path d="M372.9 455.9h1.8M374.8 483.0h1.8M376.7 476.7h1.8M390.1 470.5h1.8M392.1 455.9h1.8M405.4 453.8h1.8M409.3 441.3h1.8M413.1 483.0h1.8M415.0 476.7h1.8M415.0 447.6h1.8M415.0 439.3h1.8M416.9 478.8h1.8M416.9 466.3h1.8M416.9 437.2h1.8M416.9 428.8h1.8M418.8 493.4h1.8M418.8 489.2h1.8M420.8 545.4h1.8M420.8 491.3h1.8M420.8 478.8h1.8M420.8 466.3h1.8M420.8 453.8h1.8M424.6 478.8h1.8M424.6 474.7h1.8M426.5 493.4h1.8M426.5 472.6h1.8M426.5 451.7h1.8M430.3 551.7h1.8M430.3 539.2h1.8M430.3 489.2h1.8M430.3 476.7h1.8M430.3 455.9h1.8M432.2 549.6h1.8M432.2 545.4h1.8M432.2 541.3h1.8M432.2 483.0h1.8M434.1 535.0h1.8M434.1 514.2h1.8M434.1 493.4h1.8M434.1 489.2h1.8M434.1 472.6h1.8M436.1 524.6h1.8M436.1 474.7h1.8M438.0 535.0h1.8M438.0 526.7h1.8M438.0 497.6h1.8M438.0 489.2h1.8M438.0 476.7h1.8M438.0 472.6h1.8M438.0 468.4h1.8M438.0 455.9h1.8M439.9 528.8h1.8M439.9 503.8h1.8M441.8 526.7h1.8M441.8 518.4h1.8M441.8 514.2h1.8M441.8 510.0h1.8M441.8 501.7h1.8M441.8 497.6h1.8M441.8 489.2h1.8M441.8 480.9h1.8M441.8 472.6h1.8M441.8 430.9h1.8M443.7 516.3h1.8M443.7 512.1h1.8M443.7 503.8h1.8M443.7 499.6h1.8M443.7 474.7h1.8M445.6 518.4h1.8M445.6 510.0h1.8M445.6 501.7h1.8M445.6 497.6h1.8M445.6 493.4h1.8M445.6 489.2h1.8M445.6 480.9h1.8M445.6 476.7h1.8M445.6 472.6h1.8M447.5 537.1h1.8M447.5 524.6h1.8M447.5 516.3h1.8M447.5 508.0h1.8M447.5 503.8h1.8M447.5 499.6h1.8M447.5 495.5h1.8M447.5 487.1h1.8M447.5 483.0h1.8M447.5 474.7h1.8M447.5 470.5h1.8M449.5 510.0h1.8M449.5 505.9h1.8M449.5 501.7h1.8M449.5 497.6h1.8M449.5 493.4h1.8M449.5 480.9h1.8M449.5 472.6h1.8M449.5 464.2h1.8M449.5 460.1h1.8M451.4 516.3h1.8M451.4 512.1h1.8M451.4 499.6h1.8M451.4 495.5h1.8M451.4 478.8h1.8M451.4 474.7h1.8M451.4 466.3h1.8M453.3 522.5h1.8M453.3 514.2h1.8M453.3 510.0h1.8M453.3 501.7h1.8M453.3 476.7h1.8M455.2 508.0h1.8M455.2 503.8h1.8M455.2 499.6h1.8M455.2 495.5h1.8M455.2 487.1h1.8M455.2 483.0h1.8M455.2 478.8h1.8M455.2 474.7h1.8M455.2 462.2h1.8M457.1 526.7h1.8M457.1 510.0h1.8M457.1 505.9h1.8M457.1 501.7h1.8M457.1 493.4h1.8M457.1 489.2h1.8M457.1 480.9h1.8M457.1 468.4h1.8M457.1 455.9h1.8M457.1 451.7h1.8M459.0 541.3h1.8M459.0 533.0h1.8M459.0 516.3h1.8M459.0 512.1h1.8M459.0 503.8h1.8M459.0 491.3h1.8M459.0 478.8h1.8M460.9 514.2h1.8M460.9 510.0h1.8M460.9 497.6h1.8M460.9 493.4h1.8M460.9 489.2h1.8M460.9 480.9h1.8M460.9 472.6h1.8M462.8 516.3h1.8M462.8 508.0h1.8M462.8 503.8h1.8M462.8 491.3h1.8M462.8 483.0h1.8M462.8 474.7h1.8M464.8 489.2h1.8M464.8 439.3h1.8M466.7 520.5h1.8M466.7 516.3h1.8M466.7 512.1h1.8M466.7 508.0h1.8M466.7 499.6h1.8M466.7 495.5h1.8M466.7 478.8h1.8M468.6 472.6h1.8M470.5 520.5h1.8M470.5 516.3h1.8M470.5 499.6h1.8M470.5 495.5h1.8M472.4 518.4h1.8M474.3 520.5h1.8M474.3 487.1h1.8M476.2 518.4h1.8M476.2 510.0h1.8M476.2 501.7h1.8M476.2 497.6h1.8M476.2 489.2h1.8M476.2 460.1h1.8M478.1 483.0h1.8M478.1 474.7h1.8M480.1 489.2h1.8M483.9 451.7h1.8M489.6 512.1h1.8M489.6 483.0h1.8M493.5 478.8h1.8M495.4 501.7h1.8M497.3 503.8h1.8M484.1 400.8h1.8M464.7 409.4h1.8M466.9 411.6h1.8M465.9 423.9h1.8M493.7 436.1h1.8M515.6 436.1h1.8M525.3 442.3h1.8M525.3 463.0h1.8M555.3 458.8h1.8M512.2 497.6h1.8M512.2 501.4h1.8" stroke="#ffdf00"/><path d="M378.7 433.0h1.8M390.1 453.8h1.8M390.1 449.7h1.8M397.8 433.0h1.8M399.7 468.4h1.8M403.5 460.1h1.8M413.1 437.2h1.8M415.0 468.4h1.8M415.0 455.9h1.8M418.8 439.3h1.8M422.7 476.7h1.8M426.5 464.2h1.8M426.5 460.1h1.8M428.4 478.8h1.8M428.4 466.3h1.8M430.3 460.1h1.8M434.1 485.1h1.8M436.1 470.5h1.8M439.9 491.3h1.8M439.9 474.7h1.8M443.7 478.8h1.8M443.7 458.0h1.8M445.6 526.7h1.8M445.6 439.3h1.8M449.5 485.1h1.8M449.5 443.4h1.8M451.4 483.0h1.8M453.3 485.1h1.8M455.2 520.5h1.8M455.2 516.3h1.8M455.2 491.3h1.8M455.2 470.5h1.8M455.2 466.3h1.8M457.1 514.2h1.8M457.1 476.7h1.8M457.1 472.6h1.8M459.0 495.5h1.8M459.0 487.1h1.8M459.0 474.7h1.8M460.9 518.4h1.8M460.9 505.9h1.8M460.9 460.1h1.8M462.8 499.6h1.8M462.8 495.5h1.8M464.8 505.9h1.8M464.8 501.7h1.8M464.8 497.6h1.8M464.8 476.7h1.8M464.8 472.6h1.8M464.8 468.4h1.8M466.7 491.3h1.8M466.7 483.0h1.8M468.6 522.5h1.8M468.6 510.0h1.8M468.6 505.9h1.8M468.6 501.7h1.8M468.6 464.2h1.8M470.5 508.0h1.8M470.5 491.3h1.8M472.4 497.6h1.8M474.3 524.6h1.8M474.3 495.5h1.8M476.2 505.9h1.8M476.2 485.1h1.8M476.2 472.6h1.8M476.2 455.9h1.8M478.1 512.1h1.8M478.1 487.1h1.8M480.1 493.4h1.8M480.1 468.4h1.8M483.9 497.6h1.8M485.8 499.6h1.8M485.8 495.5h1.8M487.7 497.6h1.8M487.7 489.2h1.8M491.5 480.9h1.8M497.3 491.3h1.8M462.2 390.6h1.8M485.9 397.7h1.8M489.1 400.8h1.8M460.1 404.9h1.8M464.1 426.4h1.8M498.5 442.3h1.8M504.1 440.2h1.8M509.1 479.4h1.8M536.5 492.0h1.8M542.1 497.6h1.8M519.1 497.6h1.8M504.1 501.7h1.8M505.3 510.1h1.8M492.7 440.2h1.8M494.5 454.6h1.8" stroke="#ffda00"/><path d="M407.4 447.6h1.8M422.7 447.6h1.8M445.6 451.7h1.8M453.3 547.5h1.8M453.3 468.4h1.8M453.3 439.3h1.8M459.0 441.3h1.8M466.7 487.1h1.8M468.6 485.1h1.8M470.5 470.5h1.8M472.4 501.7h1.8M472.4 493.4h1.8M472.4 480.9h1.8M483.9 514.2h1.8M485.8 503.8h1.8M485.8 483.0h1.8M491.5 455.9h1.8M493.5 483.0h1.8M487.1 392.7h1.8M491.5 392.7h1.8M512.8 463.0h1.8M554.0 485.4h1.8M512.8 487.5h1.8" stroke="#ffcf00"/><path d="M426.5 555.9h1.8M449.5 451.7h1.8M457.1 535.0h1.8M460.9 455.9h1.8M470.5 512.1h1.8M470.5 503.8h1.8M474.3 466.3h1.8M476.2 522.5h1.8M478.1 499.6h1.8M482.0 503.8h1.8M483.9 510.0h1.8M491.5 476.7h1.8M491.5 468.4h1.8M494.1 400.8h1.8M519.1 473.0h1.8M505.9 487.5h1.8M523.4 510.1h1.8M507.8 510.1h1.8M505.9 493.9h1.8M488.4 436.1h1.8" stroke="#ffca00"/><path d="M443.7 462.2h1.8M468.6 447.6h1.8M493.5 499.6h1.8M493.5 487.1h1.8M466.3 394.8h1.8M504.7 485.7h1.8M519.1 490.7h1.8M555.9 505.7h1.8M485.2 460.7h1.8" stroke="#ffbf00"/><path d="M462.8 466.3h1.8M464.8 464.2h1.8M472.4 485.1h1.8M483.9 468.4h1.8M545.9 431.8h1.8M529.1 446.3h1.8M522.8 485.4h1.8M535.9 512.0h1.8" stroke="#ffba00"/><path d="M468.6 476.7h1.8M487.7 476.7h1.8M512.8 442.3h1.8M532.8 471.0h1.8" stroke="#ffb500"/><path d="M485.8 491.3h1.8M497.3 466.3h1.8M460.3 421.4h1.8M517.8 442.3h1.8M517.8 463.0h1.8M529.1 487.5h1.8M538.4 485.4h1.8" stroke="#ffc500"/><path d="M489.6 478.8h1.8" stroke="#ffaf00"/><path d="M505.9 446.3h1.8" stroke="#ffaa00"/></g><line x1="366.8" y1="594.5" x2="510.65" y2="355" stroke="#000" stroke-width="1.25"/><path d="M366.8 594.5v-4.4M366.8 355v4.4M398.77 594.5v-4.4M398.77 355v4.4M430.73 594.5v-4.4M430.73 355v4.4M462.7 594.5v-4.4M462.7 355v4.4M494.67 594.5v-4.4M494.67 355v4.4M526.63 594.5v-4.4M526.63 355v4.4M558.6 594.5v-4.4M558.6 355v4.4M366.8 594.5h4.4M558.6 594.5h-4.4M366.8 567.89h4.4M558.6 567.89h-4.4M366.8 541.28h4.4M558.6 541.28h-4.4M366.8 514.67h4.4M558.6 514.67h-4.4M366.8 488.06h4.4M558.6 488.06h-4.4M366.8 461.44h4.4M558.6 461.44h-4.4M366.8 434.83h4.4M558.6 434.83h-4.4M366.8 408.22h4.4M558.6 408.22h-4.4M366.8 381.61h4.4M558.6 381.61h-4.4M366.8 355h4.4M558.6 355h-4.4" stroke="#000" stroke-width="0.7" fill="none"/><rect x="366.8" y="355" width="191.8" height="239.5" fill="none" stroke="#000" stroke-width="1.35"/><g class="tk"><text x="366.8" y="610.6" text-anchor="middle">0</text><text x="398.77" y="610.6" text-anchor="middle">10</text><text x="430.73" y="610.6" text-anchor="middle">20</text><text x="462.7" y="610.6" text-anchor="middle">30</text><text x="494.67" y="610.6" text-anchor="middle">40</text><text x="526.63" y="610.6" text-anchor="middle">50</text><text x="558.6" y="610.6" text-anchor="middle">60</text><text x="362.5" y="598" text-anchor="end">0</text><text x="362.5" y="571.39" text-anchor="end">5</text><text x="362.5" y="544.78" text-anchor="end">10</text><text x="362.5" y="518.17" text-anchor="end">15</text><text x="362.5" y="491.56" text-anchor="end">20</text><text x="362.5" y="464.94" text-anchor="end">25</text><text x="362.5" y="438.33" text-anchor="end">30</text><text x="362.5" y="411.72" text-anchor="end">35</text><text x="362.5" y="385.11" text-anchor="end">40</text><text x="362.5" y="358.5" text-anchor="end">45</text></g><text class="lb" x="462.05" y="630.7" text-anchor="middle" textLength="104" lengthAdjust="spacingAndGlyphs">Degree of node</text><text class="lb" transform="translate(336 474.75) rotate(-90)" x="0" y="0" text-anchor="middle" textLength="176.5" lengthAdjust="spacingAndGlyphs">Mean degree of neighbors</text><linearGradient id="gBbot" x1="0" y1="0" x2="0" y2="1"><stop offset="0.0000" stop-color="#ff0000"/><stop offset="0.1250" stop-color="#ff1f00"/><stop offset="0.2500" stop-color="#ff3f00"/><stop offset="0.3750" stop-color="#ff5f00"/><stop offset="0.5000" stop-color="#ff7f00"/><stop offset="0.6250" stop-color="#ff9f00"/><stop offset="0.7500" stop-color="#ffbf00"/><stop offset="0.8750" stop-color="#ffdf00"/><stop offset="1.0000" stop-color="#ffff00"/></linearGradient><rect x="570.5" y="355" width="12.5" height="239.5" fill="url(#gBbot)" stroke="#000" stroke-width="1.3"/><path d="M583 570.55h-4.4M583 546.6h-4.4M583 522.65h-4.4M583 498.7h-4.4M583 474.75h-4.4M583 450.8h-4.4M583 426.85h-4.4M583 402.9h-4.4M583 378.95h-4.4" stroke="#000" stroke-width="0.7"/><g class="tk"><text x="586" y="597.9">0</text><text x="586" y="573.95">10</text><text x="586" y="550">20</text><text x="586" y="526.05">30</text><text x="586" y="502.1">40</text><text x="586" y="478.15">50</text><text x="586" y="454.2">60</text><text x="586" y="430.25">70</text><text x="586" y="406.3">80</text><text x="586" y="382.35">90</text><text x="586" y="358.4">100</text></g><text class="lb" transform="translate(627.8 474.75) rotate(-90)" text-anchor="middle" textLength="178.5" lengthAdjust="spacingAndGlyphs">mean percentage infected</text><text class="ti" x="463.15" y="21.6" text-anchor="middle" textLength="156.1" lengthAdjust="spacingAndGlyphs">Untruncated graph</text><text class="ti" x="144.4" y="330.6" text-anchor="middle" textLength="103.4" lengthAdjust="spacingAndGlyphs">Truncated at</text><text class="ti" x="147.4" y="348.6" text-anchor="middle" textLength="109" lengthAdjust="spacingAndGlyphs">mean degree</text><text class="ti" x="461.95" y="330.6" text-anchor="middle" textLength="103" lengthAdjust="spacingAndGlyphs">Truncated at</text><text class="ti" x="465.45" y="348.6" text-anchor="middle" textLength="144.3" lengthAdjust="spacingAndGlyphs">half mean degree</text></g></svg></body></html>
